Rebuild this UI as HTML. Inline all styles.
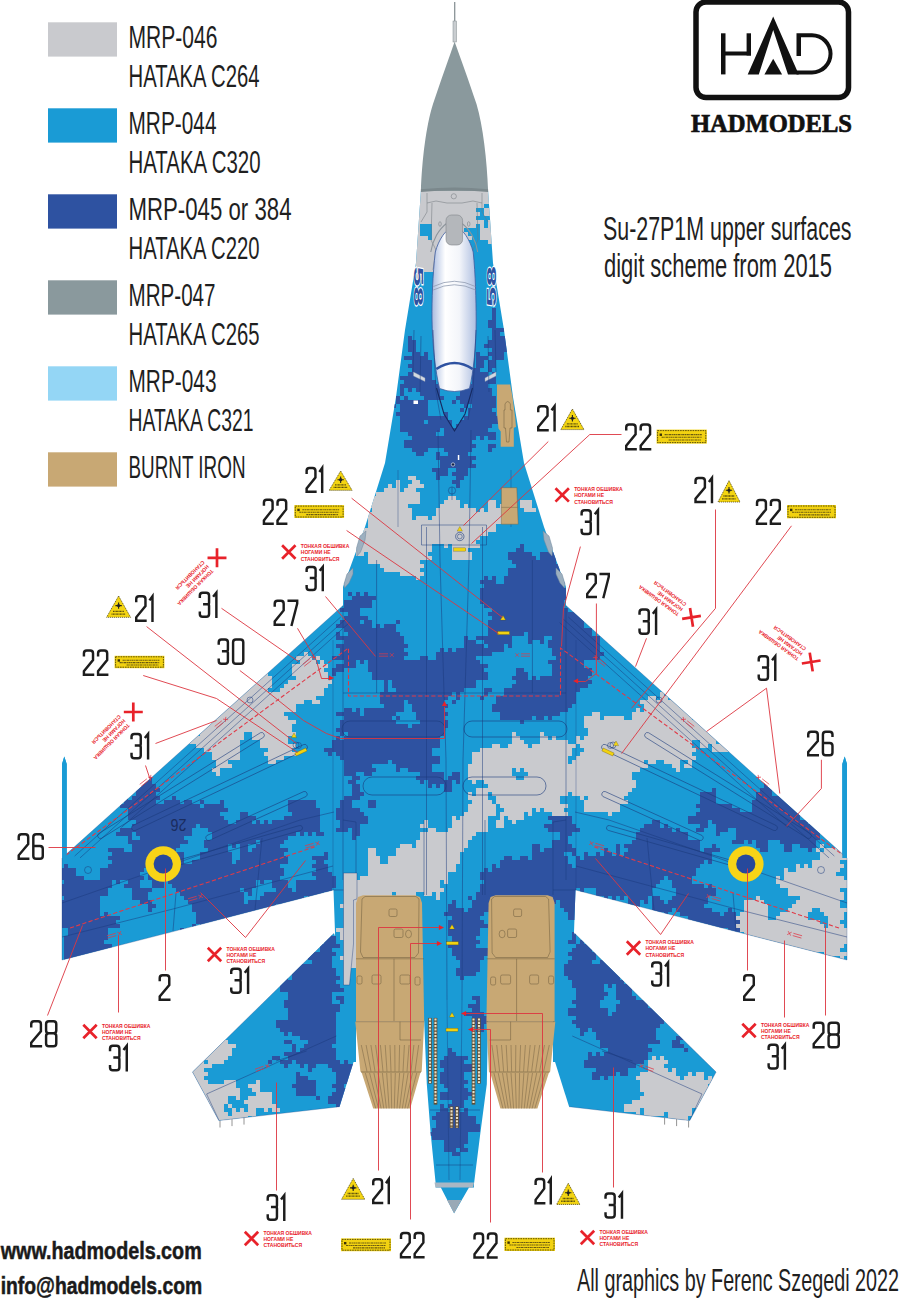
<!DOCTYPE html><html><head><meta charset="utf-8"><title>Su-27P1M</title>
<style>html,body{margin:0;padding:0;background:#fff}svg{display:block}</style></head><body>
<svg width="901" height="1300" viewBox="0 0 901 1300">
<rect width="901" height="1300" fill="#fff"/>
<defs><clipPath id="ac">
<path d="M420.9,191.0 L416.0,263.0 L405.0,330.0 L396.0,397.0 L385.0,463.0 L365.0,527.0 L343.0,587.0 L343.0,605.5 L333.5,890.0 L335.0,932.0 L336.0,1040.0 L348.0,1062.0 L356.0,1062.0 L356.0,1021.0 L424.0,1021.0 L485.0,1021.0 L553.0,1021.0 L553.0,1062.0 L561.0,1062.0 L573.0,1040.0 L574.0,932.0 L575.5,890.0 L566.0,605.5 L566.0,587.0 L544.0,527.0 L524.0,463.0 L513.0,397.0 L504.0,330.0 L493.0,263.0 L488.1,191.0Z"/>
<path d="M343.0,605.5 L62.0,858.0 L62.0,960.0 L173.0,931.6 L333.5,890.0 L343.0,880.0Z"/>
<path d="M566.0,605.5 L847.0,858.0 L847.0,960.0 L736.0,931.6 L575.5,890.0 L566.0,880.0Z"/>
<path d="M334.0,933.3 L192.5,1072.0 L218.8,1120.6 L339.5,1106.7 L354.8,1058.0 L356.0,1000.0Z"/>
<path d="M574.6,933.3 L716.1,1072.0 L689.8,1120.6 L569.1,1106.7 L553.8,1058.0 L552.6,1000.0Z"/>
<path d="M424.2,1015.0 L424.2,1021.7 L426.8,1084.0 L430.6,1132.8 L435.7,1183.8 L435.7,1187.6 L440.8,1187.6 L454.1,1213.2 L469.0,1187.6 L474.0,1187.6 L474.0,1183.8 L480.4,1132.8 L486.8,1084.3 L488.0,1021.7 L488.0,1015.0Z"/>
</clipPath></defs>
<g fill="#1a9bd5">
<path d="M420.9,191.0 L416.0,263.0 L405.0,330.0 L396.0,397.0 L385.0,463.0 L365.0,527.0 L343.0,587.0 L343.0,605.5 L333.5,890.0 L335.0,932.0 L336.0,1040.0 L348.0,1062.0 L356.0,1062.0 L356.0,1021.0 L424.0,1021.0 L485.0,1021.0 L553.0,1021.0 L553.0,1062.0 L561.0,1062.0 L573.0,1040.0 L574.0,932.0 L575.5,890.0 L566.0,605.5 L566.0,587.0 L544.0,527.0 L524.0,463.0 L513.0,397.0 L504.0,330.0 L493.0,263.0 L488.1,191.0Z"/>
<path d="M343.0,605.5 L62.0,858.0 L62.0,960.0 L173.0,931.6 L333.5,890.0 L343.0,880.0Z"/>
<path d="M566.0,605.5 L847.0,858.0 L847.0,960.0 L736.0,931.6 L575.5,890.0 L566.0,880.0Z"/>
<path d="M334.0,933.3 L192.5,1072.0 L218.8,1120.6 L339.5,1106.7 L354.8,1058.0 L356.0,1000.0Z"/>
<path d="M574.6,933.3 L716.1,1072.0 L689.8,1120.6 L569.1,1106.7 L553.8,1058.0 L552.6,1000.0Z"/>
<path d="M424.2,1015.0 L424.2,1021.7 L426.8,1084.0 L430.6,1132.8 L435.7,1183.8 L435.7,1187.6 L440.8,1187.6 L454.1,1213.2 L469.0,1187.6 L474.0,1187.6 L474.0,1183.8 L480.4,1132.8 L486.8,1084.3 L488.0,1021.7 L488.0,1015.0Z"/>
<path d="M62.0,858.0 L62.0,764.0 L64.3,756.5 L66.7,764.0 L66.7,858.0Z"/>
<path d="M847.0,858.0 L847.0,764.0 L844.7,756.5 L842.3,764.0 L842.3,858.0Z"/>
</g>
<g clip-path="url(#ac)">
<path fill="#2e52a1" d="M492,308h4v12h-4zM488,320h8v8h-8zM492,328h12v4h-12zM492,332h8v4h-8zM408,336h4v4h-4zM492,336h16v4h-16zM488,340h20v4h-20zM484,344h28v4h-28zM408,340h8v12h-8zM492,348h24v4h-24zM488,352h16v4h-16zM412,352h8v4h-8zM424,352h4v4h-4zM476,352h4v4h-4zM476,356h12v4h-12zM492,356h12v4h-12zM404,356h24v4h-24zM412,360h20v4h-20zM476,360h8v8h-8zM488,360h8v8h-8zM408,364h24v4h-24zM488,368h4v4h-4zM472,368h8v4h-8zM412,368h20v4h-20zM492,372h4v4h-4zM408,372h24v4h-24zM472,372h16v4h-16zM400,376h32v4h-32zM472,376h24v8h-24zM404,380h32v4h-32zM400,384h40v4h-40zM464,384h24v4h-24zM408,388h4v4h-4zM416,388h24v4h-24zM460,388h32v8h-32zM400,388h4v8h-4zM420,392h20v4h-20zM396,396h4v4h-4zM456,396h40v4h-40zM424,396h20v4h-20zM404,396h4v4h-4zM396,400h32v4h-32zM460,400h36v4h-36zM452,400h4v4h-4zM472,404h24v4h-24zM392,404h4v4h-4zM464,404h4v4h-4zM400,404h28v8h-28zM468,408h24v4h-24zM460,408h4v4h-4zM468,412h28v4h-28zM396,412h32v4h-32zM444,412h4v4h-4zM400,416h48v4h-48zM464,416h40v4h-40zM428,420h24v4h-24zM400,420h24v4h-24zM460,420h44v4h-44zM456,424h36v4h-36zM400,424h52v4h-52zM400,428h40v4h-40zM444,428h44v4h-44zM408,432h28v4h-28zM444,432h52v4h-52zM480,436h4v4h-4zM488,436h8v4h-8zM412,436h64v4h-64zM404,440h68v4h-68zM404,444h72v4h-72zM488,444h8v4h-8zM488,448h4v4h-4zM444,448h28v4h-28zM412,448h16v4h-16zM416,452h8v4h-8zM436,452h4v4h-4zM448,452h20v4h-20zM436,456h40v4h-40zM440,460h32v4h-32zM440,464h36v4h-36zM456,468h12v4h-12zM432,468h16v4h-16zM452,472h16v4h-16zM436,472h12v4h-12zM456,476h8v4h-8zM436,476h4v4h-4zM452,480h8v4h-8zM456,484h4v4h-4zM520,544h4v4h-4zM516,548h8v4h-8zM508,552h24v4h-24zM540,552h20v4h-20zM540,556h16v4h-16zM508,556h28v4h-28zM512,560h44v4h-44zM516,564h44v4h-44zM508,568h52v8h-52zM504,576h56v4h-56zM484,576h4v4h-4zM492,576h4v4h-4zM480,580h16v4h-16zM504,580h64v4h-64zM484,584h80v4h-80zM348,592h4v4h-4zM364,592h4v4h-4zM356,592h4v4h-4zM480,588h88v12h-88zM352,596h24v4h-24zM480,600h84v4h-84zM344,600h28v8h-28zM484,604h80v4h-80zM340,608h20v4h-20zM492,608h76v4h-76zM488,612h92v4h-92zM348,612h12v4h-12zM492,616h96v4h-96zM344,616h24v4h-24zM340,620h20v4h-20zM396,620h4v4h-4zM364,620h8v4h-8zM488,620h96v8h-96zM384,624h12v4h-12zM336,624h36v4h-36zM376,624h4v4h-4zM344,628h52v4h-52zM488,628h104v4h-104zM488,632h36v4h-36zM348,632h52v4h-52zM528,632h64v4h-64zM336,632h4v4h-4zM552,636h48v4h-48zM476,636h36v4h-36zM464,636h4v4h-4zM528,636h16v4h-16zM336,636h68v4h-68zM528,640h4v4h-4zM344,640h60v4h-60zM540,640h4v4h-4zM464,640h12v4h-12zM484,640h28v4h-28zM548,640h52v8h-52zM488,644h16v4h-16zM508,644h4v4h-4zM336,644h72v4h-72zM464,644h20v4h-20zM340,648h64v4h-64zM440,648h4v4h-4zM448,648h4v4h-4zM456,648h48v4h-48zM552,648h48v4h-48zM340,652h68v4h-68zM552,652h52v4h-52zM436,652h56v4h-56zM436,656h40v4h-40zM332,656h72v4h-72zM420,656h8v4h-8zM556,656h44v4h-44zM360,660h4v4h-4zM344,660h12v4h-12zM368,660h112v4h-112zM548,660h36v4h-36zM368,664h120v4h-120zM336,664h20v4h-20zM552,664h32v4h-32zM516,668h8v4h-8zM368,668h116v4h-116zM332,668h12v4h-12zM552,668h40v8h-40zM332,672h4v4h-4zM516,672h12v4h-12zM372,672h116v8h-116zM540,676h48v4h-48zM512,676h16v4h-16zM532,676h4v4h-4zM516,680h76v4h-76zM392,680h84v8h-84zM512,684h76v4h-76zM384,680h4v12h-4zM484,688h8v4h-8zM504,688h76v4h-76zM396,688h68v4h-68zM484,692h4v4h-4zM504,692h72v4h-72zM380,692h72v4h-72zM456,692h4v8h-4zM480,696h4v4h-4zM380,696h68v4h-68zM496,696h80v8h-80zM408,700h36v4h-36zM380,700h24v4h-24zM452,700h4v4h-4zM384,704h20v4h-20zM492,704h80v4h-80zM412,704h36v4h-36zM364,708h40v4h-40zM412,708h32v4h-32zM344,708h8v4h-8zM492,708h76v4h-76zM356,708h4v4h-4zM416,712h32v4h-32zM500,712h60v4h-60zM336,712h24v4h-24zM364,712h32v4h-32zM548,716h4v4h-4zM396,716h4v4h-4zM536,716h8v4h-8zM416,716h28v4h-28zM500,716h32v4h-32zM344,716h48v4h-48zM520,720h4v4h-4zM420,720h28v4h-28zM340,720h56v4h-56zM340,724h68v4h-68zM412,724h36v4h-36zM336,728h108v4h-108zM340,732h4v4h-4zM348,732h96v4h-96zM344,736h96v4h-96zM336,736h4v4h-4zM332,740h108v8h-108zM324,748h108v4h-108zM336,752h96v4h-96zM328,752h4v4h-4zM340,756h100v4h-100zM392,760h48v4h-48zM344,760h44v4h-44zM344,764h28v4h-28zM396,764h36v4h-36zM396,768h4v4h-4zM344,768h32v4h-32zM408,768h24v4h-24zM452,772h8v4h-8zM344,772h12v4h-12zM420,772h24v4h-24zM364,772h8v4h-8zM352,776h8v4h-8zM448,776h12v4h-12zM416,776h28v4h-28zM140,776h12v8h-12zM428,780h24v4h-24zM420,780h4v4h-4zM348,780h8v4h-8zM456,780h4v4h-4zM764,780h8v8h-8zM140,784h16v4h-16zM428,784h4v4h-4zM436,784h4v4h-4zM444,784h8v8h-8zM352,784h8v8h-8zM760,788h12v4h-12zM780,788h4v4h-4zM712,788h4v4h-4zM136,788h24v4h-24zM780,792h8v4h-8zM136,792h20v4h-20zM756,792h16v4h-16zM124,792h4v4h-4zM352,792h12v4h-12zM120,796h8v4h-8zM756,796h40v4h-40zM344,796h16v4h-16zM132,796h28v4h-28zM172,796h4v4h-4zM700,792h16v12h-16zM220,800h4v4h-4zM124,800h32v4h-32zM200,800h4v4h-4zM164,800h16v4h-16zM184,800h8v4h-8zM288,800h28v8h-28zM340,800h12v8h-12zM368,800h8v8h-8zM204,804h20v4h-20zM696,804h36v4h-36zM120,804h80v4h-80zM752,800h48v12h-48zM336,808h24v4h-24zM700,808h40v4h-40zM288,808h32v4h-32zM128,808h100v4h-100zM336,812h28v4h-28zM696,812h108v4h-108zM240,812h8v4h-8zM292,812h28v4h-28zM128,812h92v4h-92zM128,816h96v4h-96zM688,816h112v4h-112zM336,816h32v4h-32zM284,816h36v4h-36zM548,816h24v4h-24zM240,816h16v4h-16zM256,820h4v4h-4zM688,820h20v4h-20zM236,820h16v4h-16zM264,820h4v4h-4zM272,820h48v4h-48zM712,820h96v4h-96zM136,820h92v4h-92zM552,820h20v4h-20zM652,820h8v4h-8zM340,820h28v4h-28zM644,824h16v4h-16zM700,824h8v4h-8zM716,824h104v4h-104zM200,824h120v4h-120zM664,824h4v4h-4zM340,824h20v4h-20zM544,824h32v4h-32zM132,824h64v4h-64zM548,828h32v4h-32zM640,828h32v4h-32zM336,828h12v4h-12zM208,828h112v4h-112zM120,828h72v4h-72zM716,828h12v4h-12zM676,828h4v4h-4zM696,828h8v4h-8zM352,828h8v8h-8zM116,832h16v4h-16zM716,832h4v4h-4zM316,832h8v4h-8zM308,832h4v4h-4zM300,832h4v4h-4zM136,832h56v4h-56zM212,832h84v4h-84zM560,832h12v4h-12zM736,828h84v12h-84zM636,832h52v8h-52zM212,836h76v4h-76zM140,836h44v4h-44zM128,836h4v4h-4zM560,836h8v4h-8zM352,836h4v4h-4zM780,840h36v4h-36zM552,840h16v4h-16zM748,840h4v4h-4zM260,840h24v4h-24zM732,840h12v4h-12zM632,840h68v4h-68zM204,840h52v4h-52zM128,840h60v4h-60zM756,840h12v8h-12zM624,844h76v4h-76zM204,844h24v4h-24zM232,844h4v4h-4zM132,844h48v4h-48zM256,844h24v4h-24zM712,844h4v4h-4zM552,844h20v4h-20zM800,844h16v4h-16zM240,844h8v8h-8zM532,844h8v8h-8zM784,844h8v8h-8zM108,848h16v4h-16zM604,848h4v4h-4zM628,848h72v4h-72zM760,848h8v4h-8zM704,848h16v4h-16zM132,848h44v4h-44zM808,848h4v4h-4zM252,848h36v4h-36zM208,848h20v4h-20zM544,848h32v4h-32zM616,844h4v12h-4zM324,852h4v4h-4zM112,852h72v4h-72zM584,852h4v4h-4zM532,852h32v4h-32zM624,852h88v4h-88zM240,852h44v4h-44zM596,852h4v4h-4zM604,852h8v4h-8zM572,852h4v4h-4zM200,852h32v8h-32zM520,856h8v4h-8zM240,856h48v4h-48zM576,856h4v4h-4zM108,856h76v4h-76zM532,856h36v4h-36zM504,856h8v4h-8zM312,856h16v4h-16zM584,856h128v4h-128zM500,860h68v4h-68zM112,860h72v4h-72zM316,860h8v4h-8zM192,860h40v4h-40zM576,860h128v4h-128zM236,860h52v4h-52zM708,860h4v4h-4zM500,864h72v4h-72zM492,864h4v4h-4zM108,864h172v4h-172zM312,864h16v4h-16zM56,864h4v4h-4zM64,864h4v4h-4zM576,864h124v4h-124zM316,868h12v4h-12zM492,868h204v4h-204zM484,868h4v4h-4zM100,868h44v4h-44zM148,868h136v8h-136zM56,868h20v8h-20zM480,872h216v4h-216zM100,872h40v4h-40zM312,872h20v4h-20zM316,876h20v4h-20zM148,876h132v4h-132zM668,876h24v4h-24zM480,876h184v4h-184zM100,876h44v4h-44zM56,876h28v4h-28zM260,880h4v4h-4zM168,880h88v4h-88zM64,880h48v4h-48zM672,880h20v4h-20zM128,880h12v4h-12zM484,880h176v4h-176zM116,880h4v4h-4zM296,880h40v8h-40zM152,880h12v8h-12zM272,880h16v8h-16zM672,884h32v4h-32zM480,884h176v4h-176zM124,884h16v4h-16zM708,884h4v4h-4zM172,884h84v4h-84zM56,884h56v4h-56zM580,888h4v4h-4zM480,888h96v4h-96zM132,888h20v4h-20zM244,888h8v4h-8zM176,888h64v4h-64zM296,888h36v4h-36zM276,888h16v4h-16zM60,888h48v8h-48zM596,888h56v8h-56zM676,888h40v8h-40zM264,892h60v4h-60zM180,892h64v4h-64zM328,892h4v4h-4zM248,892h4v4h-4zM132,892h16v8h-16zM476,892h100v8h-100zM260,896h44v4h-44zM308,896h8v4h-8zM604,896h4v4h-4zM628,896h20v4h-20zM612,896h4v4h-4zM184,896h60v4h-60zM672,896h36v4h-36zM64,896h36v4h-36zM468,896h4v4h-4zM652,896h8v4h-8zM56,896h4v4h-4zM620,896h4v4h-4zM472,900h84v4h-84zM668,900h40v4h-40zM308,900h4v4h-4zM188,900h56v4h-56zM140,900h12v4h-12zM652,900h12v4h-12zM452,900h4v4h-4zM248,900h56v4h-56zM644,900h4v4h-4zM560,900h16v8h-16zM628,900h12v8h-12zM280,904h4v4h-4zM148,904h8v4h-8zM448,904h8v4h-8zM496,904h8v4h-8zM472,904h20v4h-20zM652,904h52v4h-52zM288,904h12v4h-12zM540,904h12v4h-12zM532,904h4v4h-4zM56,900h44v12h-44zM192,904h84v8h-84zM512,904h12v8h-12zM500,908h4v4h-4zM468,908h24v4h-24zM676,908h36v4h-36zM148,908h4v4h-4zM728,908h4v4h-4zM448,908h16v4h-16zM564,908h12v4h-12zM652,908h20v4h-20zM652,912h4v4h-4zM260,912h16v4h-16zM104,912h4v4h-4zM196,912h60v4h-60zM680,912h40v4h-40zM664,912h4v4h-4zM724,912h12v4h-12zM60,912h40v4h-40zM444,912h40v4h-40zM568,912h8v8h-8zM56,916h64v4h-64zM268,916h4v4h-4zM688,916h48v4h-48zM196,916h56v4h-56zM452,916h28v4h-28zM232,920h4v4h-4zM196,920h32v4h-32zM60,920h56v4h-56zM688,920h52v4h-52zM448,920h36v4h-36zM220,924h8v4h-8zM56,924h64v4h-64zM708,924h28v4h-28zM192,924h4v4h-4zM200,924h4v4h-4zM448,924h40v4h-40zM688,924h16v4h-16zM212,924h4v4h-4zM324,928h4v4h-4zM180,928h4v4h-4zM708,928h12v4h-12zM224,928h4v4h-4zM728,928h12v4h-12zM448,928h32v8h-32zM196,928h8v8h-8zM68,928h40v8h-40zM172,932h12v4h-12zM716,932h4v4h-4zM728,932h4v4h-4zM324,932h8v4h-8zM708,932h4v4h-4zM572,932h4v8h-4zM452,936h24v4h-24zM168,936h8v4h-8zM64,936h44v4h-44zM324,936h12v8h-12zM580,940h4v4h-4zM64,940h40v4h-40zM568,940h8v4h-8zM452,940h28v4h-28zM576,944h16v4h-16zM320,944h20v4h-20zM448,944h28v4h-28zM64,944h48v4h-48zM64,948h44v4h-44zM572,948h20v4h-20zM320,948h12v4h-12zM452,948h36v8h-36zM308,952h28v4h-28zM64,952h56v4h-56zM568,952h28v4h-28zM308,956h24v4h-24zM456,956h28v4h-28zM572,956h24v4h-24zM64,956h48v4h-48zM568,960h24v4h-24zM600,960h20v4h-20zM104,960h4v4h-4zM84,960h4v4h-4zM312,960h20v4h-20zM64,960h8v8h-8zM460,960h20v8h-20zM292,964h40v4h-40zM564,964h56v8h-56zM456,968h24v4h-24zM292,968h44v8h-44zM564,972h60v4h-60zM456,972h20v4h-20zM568,976h52v4h-52zM280,976h8v4h-8zM460,976h4v4h-4zM292,976h48v4h-48zM572,980h52v4h-52zM280,980h56v4h-56zM572,984h32v4h-32zM280,984h60v4h-60zM608,984h4v4h-4zM576,988h28v4h-28zM280,988h64v4h-64zM616,984h16v12h-16zM576,992h32v4h-32zM288,992h44v8h-44zM472,996h8v4h-8zM576,996h28v4h-28zM616,996h20v4h-20zM336,996h8v4h-8zM572,1000h28v4h-28zM476,1000h4v4h-4zM284,1000h48v4h-48zM340,1000h4v4h-4zM620,1000h28v4h-28zM468,1004h12v4h-12zM576,1004h24v4h-24zM284,1004h56v4h-56zM652,1004h8v4h-8zM616,1004h32v4h-32zM288,1008h52v4h-52zM472,1008h8v4h-8zM616,1008h44v4h-44zM568,1008h40v8h-40zM464,1012h20v4h-20zM612,1012h48v4h-48zM288,1012h48v8h-48zM576,1016h88v4h-88zM472,1016h16v4h-16zM472,1020h20v4h-20zM572,1020h92v4h-92zM276,1020h60v8h-60zM576,1024h84v4h-84zM476,1024h8v8h-8zM580,1028h8v4h-8zM592,1028h64v4h-64zM280,1028h56v4h-56zM580,1032h4v4h-4zM292,1032h44v4h-44zM684,1032h4v4h-4zM284,1032h4v4h-4zM596,1032h60v8h-60zM300,1036h36v4h-36zM676,1036h12v4h-12zM284,1040h8v4h-8zM308,1040h28v4h-28zM600,1040h60v4h-60zM672,1040h8v4h-8zM672,1044h12v4h-12zM304,1044h28v4h-28zM600,1044h48v4h-48zM292,1044h4v8h-4zM300,1048h36v4h-36zM448,1048h4v4h-4zM684,1048h4v4h-4zM608,1048h44v4h-44zM284,1052h52v4h-52zM604,1052h44v4h-44zM448,1052h8v4h-8zM588,1052h4v4h-4zM596,1052h4v4h-4zM288,1056h48v4h-48zM272,1056h8v4h-8zM444,1056h24v4h-24zM588,1056h60v4h-60zM296,1060h44v4h-44zM584,1060h60v4h-60zM268,1060h4v4h-4zM280,1060h12v4h-12zM344,1060h4v4h-4zM440,1060h24v4h-24zM308,1064h8v4h-8zM440,1064h32v4h-32zM328,1064h28v4h-28zM300,1064h4v4h-4zM584,1064h52v4h-52zM284,1064h4v4h-4zM596,1068h32v4h-32zM332,1068h24v4h-24zM444,1068h28v4h-28zM308,1068h4v4h-4zM296,1072h4v4h-4zM336,1072h16v4h-16zM620,1072h8v4h-8zM592,1072h24v4h-24zM440,1072h24v8h-24zM604,1076h4v4h-4zM296,1076h12v4h-12zM336,1076h20v4h-20zM592,1076h8v4h-8zM440,1080h28v4h-28zM296,1080h20v4h-20zM336,1080h12v4h-12zM444,1084h20v4h-20zM292,1084h24v4h-24zM332,1084h12v4h-12zM336,1088h12v4h-12zM448,1088h20v4h-20zM296,1088h20v8h-20zM440,1092h32v4h-32zM332,1092h12v4h-12zM440,1096h28v4h-28zM316,1096h4v4h-4zM328,1096h20v8h-20zM452,1100h12v4h-12zM336,1104h12v4h-12zM448,1104h16v4h-16zM440,1104h4v4h-4zM336,1108h8v4h-8zM440,1108h8v4h-8zM464,1108h4v4h-4zM452,1108h8v4h-8zM436,1112h32v4h-32zM432,1116h44v4h-44zM436,1120h40v4h-40zM436,1124h44v4h-44zM432,1128h48v4h-48zM428,1132h40v4h-40zM432,1136h36v4h-36zM444,1140h24v4h-24zM444,1144h20v4h-20zM460,1148h8v4h-8zM444,1148h12v4h-12zM452,1152h8v4h-8z"/>
<path fill="#c9cace" d="M460,176h4v4h-4zM476,176h4v4h-4zM424,180h12v4h-12zM452,180h28v4h-28zM412,184h24v4h-24zM448,184h40v4h-40zM500,184h4v8h-4zM412,188h84v4h-84zM408,192h96v4h-96zM412,196h84v4h-84zM404,200h96v4h-96zM492,204h8v4h-8zM404,204h80v4h-80zM484,208h8v4h-8zM408,208h68v4h-68zM404,212h76v4h-76zM484,212h12v4h-12zM500,212h8v4h-8zM408,216h68v4h-68zM492,216h12v4h-12zM404,220h80v4h-80zM488,220h12v8h-12zM400,224h20v4h-20zM480,224h4v4h-4zM432,224h44v4h-44zM432,228h32v4h-32zM480,228h20v4h-20zM408,228h12v8h-12zM480,232h16v4h-16zM500,232h8v4h-8zM432,232h36v4h-36zM408,236h20v4h-20zM480,236h24v4h-24zM432,236h40v4h-40zM488,240h4v4h-4zM408,240h52v4h-52zM404,244h64v4h-64zM408,248h44v4h-44zM460,248h4v4h-4zM404,252h48v4h-48zM400,256h56v4h-56zM404,260h48v4h-48zM408,264h44v4h-44zM404,268h40v4h-40zM412,272h12v4h-12zM416,276h8v4h-8zM408,476h8v4h-8zM412,480h8v4h-8zM396,480h4v8h-4zM408,484h16v4h-16zM388,484h4v4h-4zM404,488h12v4h-12zM384,488h16v4h-16zM376,492h44v4h-44zM448,496h8v4h-8zM368,496h52v4h-52zM444,500h16v4h-16zM372,500h48v4h-48zM520,500h12v8h-12zM488,500h8v8h-8zM500,504h4v4h-4zM368,504h40v4h-40zM464,504h4v4h-4zM440,504h20v4h-20zM436,508h40v4h-40zM488,508h16v4h-16zM372,508h40v4h-40zM480,508h4v4h-4zM524,508h12v4h-12zM436,512h72v4h-72zM368,512h44v8h-44zM432,516h76v4h-76zM416,516h12v4h-12zM368,520h136v4h-136zM368,524h128v4h-128zM356,528h140v4h-140zM360,532h128v4h-128zM360,536h120v4h-120zM364,540h112v4h-112zM444,544h4v4h-4zM356,544h76v4h-76zM452,544h28v4h-28zM452,548h16v4h-16zM352,548h80v4h-80zM368,552h60v4h-60zM356,552h8v4h-8zM452,552h20v8h-20zM368,556h64v4h-64zM368,560h52v4h-52zM380,564h44v4h-44zM384,568h36v4h-36zM400,572h24v4h-24zM416,576h4v4h-4zM304,652h4v4h-4zM316,656h4v4h-4zM296,656h16v4h-16zM320,660h4v4h-4zM300,660h16v4h-16zM292,664h36v4h-36zM292,668h32v4h-32zM256,668h4v4h-4zM256,672h12v4h-12zM292,672h36v4h-36zM244,676h28v4h-28zM296,676h32v4h-32zM288,680h44v4h-44zM240,680h32v8h-32zM284,684h44v4h-44zM280,688h44v4h-44zM236,688h32v4h-32zM236,692h88v4h-88zM228,692h4v4h-4zM660,692h4v4h-4zM672,696h8v4h-8zM660,696h8v4h-8zM648,696h8v4h-8zM228,696h88v4h-88zM640,700h44v4h-44zM312,700h8v4h-8zM224,700h80v4h-80zM644,704h36v4h-36zM216,704h80v4h-80zM208,708h88v4h-88zM644,708h40v4h-40zM636,708h4v4h-4zM208,712h76v4h-76zM592,712h8v4h-8zM632,712h60v8h-60zM604,716h20v4h-20zM696,716h4v4h-4zM204,716h84v4h-84zM584,716h16v4h-16zM208,720h88v4h-88zM584,720h120v4h-120zM584,724h128v4h-128zM200,724h92v8h-92zM588,728h132v8h-132zM252,732h44v4h-44zM184,732h12v4h-12zM540,732h4v4h-4zM512,732h4v4h-4zM200,732h44v4h-44zM512,736h8v4h-8zM552,736h4v4h-4zM576,736h4v4h-4zM584,736h136v4h-136zM176,736h4v4h-4zM184,736h60v4h-60zM252,736h36v4h-36zM540,736h8v4h-8zM176,740h8v4h-8zM260,740h28v4h-28zM540,740h28v4h-28zM700,740h16v4h-16zM512,740h12v4h-12zM576,740h116v4h-116zM188,740h52v4h-52zM700,744h8v4h-8zM176,744h4v4h-4zM508,744h20v4h-20zM712,744h20v4h-20zM492,744h8v4h-8zM532,744h44v4h-44zM196,744h44v4h-44zM260,744h36v4h-36zM580,744h112v4h-112zM204,748h36v4h-36zM712,748h16v4h-16zM480,748h92v4h-92zM268,748h24v4h-24zM584,748h112v4h-112zM580,752h112v4h-112zM264,752h32v4h-32zM472,752h100v4h-100zM212,752h28v8h-28zM268,756h16v4h-16zM576,756h120v4h-120zM472,756h96v8h-96zM648,760h8v4h-8zM216,760h12v4h-12zM572,760h72v4h-72zM664,760h16v4h-16zM688,760h4v4h-4zM268,760h8v4h-8zM216,764h16v4h-16zM672,764h8v4h-8zM684,764h8v4h-8zM468,764h180v4h-180zM516,768h4v4h-4zM212,768h8v4h-8zM676,768h4v4h-4zM524,768h116v4h-116zM468,768h44v8h-44zM528,772h104v4h-104zM216,772h4v4h-4zM524,776h108v4h-108zM468,776h48v4h-48zM472,780h4v4h-4zM484,780h152v4h-152zM488,784h148v4h-148zM476,788h156v4h-156zM492,792h76v4h-76zM476,792h12v4h-12zM572,792h56v4h-56zM468,792h4v4h-4zM580,796h4v4h-4zM588,796h36v4h-36zM468,796h20v4h-20zM496,796h64v8h-64zM472,800h20v4h-20zM584,800h44v4h-44zM500,804h68v4h-68zM468,804h28v8h-28zM584,804h36v8h-36zM536,808h4v4h-4zM504,808h28v4h-28zM544,808h20v4h-20zM528,812h4v4h-4zM552,812h16v4h-16zM500,812h24v4h-24zM464,812h32v4h-32zM608,812h4v4h-4zM508,816h16v4h-16zM500,816h4v4h-4zM452,816h4v4h-4zM460,816h28v4h-28zM512,820h4v4h-4zM424,820h4v4h-4zM452,820h36v8h-36zM496,820h8v8h-8zM420,824h8v4h-8zM428,828h8v4h-8zM448,828h40v4h-40zM420,832h56v4h-56zM420,836h52v4h-52zM416,840h52v8h-52zM400,844h12v4h-12zM820,844h4v4h-4zM824,848h24v4h-24zM816,848h4v4h-4zM396,848h68v4h-68zM368,848h8v8h-8zM820,852h28v4h-28zM396,852h64v4h-64zM820,856h32v4h-32zM368,856h12v8h-12zM388,856h72v8h-72zM812,860h28v4h-28zM812,864h32v4h-32zM796,864h4v4h-4zM804,864h4v4h-4zM368,864h88v8h-88zM784,868h4v4h-4zM796,868h44v4h-44zM784,872h52v4h-52zM368,872h80v4h-80zM776,876h4v4h-4zM784,876h60v4h-60zM348,876h8v4h-8zM360,876h88v4h-88zM776,880h76v4h-76zM348,880h92v4h-92zM444,880h4v4h-4zM344,884h96v4h-96zM780,884h68v4h-68zM788,888h52v4h-52zM348,888h96v4h-96zM424,892h8v4h-8zM396,892h20v4h-20zM788,892h56v4h-56zM344,892h48v4h-48zM436,892h4v8h-4zM396,896h4v4h-4zM756,896h4v4h-4zM344,896h40v4h-40zM800,896h44v4h-44zM404,896h4v4h-4zM744,900h20v4h-20zM796,900h44v4h-44zM344,900h20v4h-20zM340,904h20v4h-20zM792,904h48v4h-48zM744,904h24v8h-24zM348,908h16v4h-16zM788,908h24v4h-24zM820,908h28v4h-28zM740,912h28v4h-28zM824,912h20v4h-20zM780,912h28v4h-28zM344,912h24v4h-24zM776,916h32v4h-32zM828,916h16v4h-16zM736,916h32v4h-32zM348,916h12v4h-12zM740,920h80v4h-80zM352,920h8v4h-8zM828,920h12v4h-12zM736,924h88v4h-88zM828,924h16v4h-16zM348,924h12v4h-12zM740,928h108v4h-108zM336,928h20v4h-20zM744,932h108v4h-108zM340,932h16v4h-16zM340,936h20v4h-20zM752,936h96v4h-96zM760,940h88v4h-88zM344,940h16v8h-16zM780,944h64v4h-64zM764,944h8v4h-8zM792,948h48v4h-48zM784,948h4v4h-4zM344,948h12v4h-12zM800,952h4v4h-4zM348,952h12v4h-12zM792,952h4v4h-4zM808,952h4v4h-4zM824,952h24v4h-24zM824,956h8v4h-8zM840,956h4v4h-4zM340,956h16v4h-16zM344,960h16v4h-16zM348,964h8v4h-8zM220,1040h8v4h-8zM212,1040h4v4h-4zM212,1044h24v4h-24zM204,1048h28v8h-28zM652,1056h4v4h-4zM660,1056h4v4h-4zM204,1056h24v4h-24zM196,1056h4v4h-4zM648,1060h20v4h-20zM208,1060h16v4h-16zM196,1060h8v4h-8zM648,1064h16v4h-16zM196,1064h16v4h-16zM188,1068h16v4h-16zM648,1068h20v4h-20zM672,1068h4v4h-4zM696,1072h8v4h-8zM192,1072h16v4h-16zM640,1072h36v4h-36zM688,1072h4v4h-4zM684,1076h20v4h-20zM708,1076h4v4h-4zM192,1076h12v4h-12zM636,1076h44v4h-44zM196,1080h12v4h-12zM640,1080h72v4h-72zM256,1080h4v4h-4zM224,1080h12v4h-12zM640,1084h68v4h-68zM248,1084h12v4h-12zM196,1084h40v4h-40zM192,1088h48v4h-48zM640,1088h80v4h-80zM252,1088h8v4h-8zM204,1092h36v4h-36zM256,1092h16v4h-16zM644,1092h72v4h-72zM236,1096h4v4h-4zM640,1096h72v4h-72zM204,1096h24v4h-24zM248,1096h24v4h-24zM208,1100h20v4h-20zM244,1100h28v4h-28zM632,1100h80v4h-80zM228,1104h4v4h-4zM624,1104h80v4h-80zM248,1104h28v4h-28zM208,1104h16v4h-16zM212,1108h12v4h-12zM232,1108h4v4h-4zM696,1108h4v4h-4zM644,1108h48v4h-48zM248,1108h8v4h-8zM264,1108h4v4h-4zM272,1108h8v4h-8zM240,1108h4v4h-4zM624,1108h16v4h-16zM636,1112h4v4h-4zM668,1112h24v4h-24zM232,1112h24v4h-24zM644,1112h20v4h-20zM212,1112h16v4h-16zM648,1116h4v4h-4zM252,1116h4v4h-4zM216,1116h32v4h-32zM668,1116h20v4h-20zM676,1120h4v4h-4zM236,1120h4v4h-4z"/>
</g>
<g clip-path="url(#ac)">
<path d="M340.7,617.0 L74.7,856.0" fill="none" stroke="#1b3a7c" stroke-width="0.55" stroke-opacity="0.9"/>
<path d="M568.3,617.0 L834.3,856.0" fill="none" stroke="#1b3a7c" stroke-width="0.55" stroke-opacity="0.9"/>
<path d="M346.0,618.9 L80.0,857.9" fill="none" stroke="#1b3a7c" stroke-width="0.55" stroke-opacity="0.9"/>
<path d="M563.0,618.9 L829.0,857.9" fill="none" stroke="#1b3a7c" stroke-width="0.55" stroke-opacity="0.9"/>
<path d="M349.4,622.6 L121.4,827.5" fill="none" stroke="#1b3a7c" stroke-width="0.55" stroke-opacity="0.9"/>
<path d="M559.6,622.6 L787.6,827.5" fill="none" stroke="#1b3a7c" stroke-width="0.55" stroke-opacity="0.9"/>
<path d="M62.0,903.0 L300.0,820.0 L334.0,812.0" fill="none" stroke="#1b3a7c" stroke-width="0.55" stroke-opacity="0.9"/>
<path d="M847.0,903.0 L609.0,820.0 L575.0,812.0" fill="none" stroke="#1b3a7c" stroke-width="0.55" stroke-opacity="0.9"/>
<path d="M62.0,937.0 L173.0,909.0 L333.0,866.0" fill="none" stroke="#1b3a7c" stroke-width="0.55" stroke-opacity="0.9"/>
<path d="M847.0,937.0 L736.0,909.0 L576.0,866.0" fill="none" stroke="#1b3a7c" stroke-width="0.55" stroke-opacity="0.9"/>
<path d="M173.0,931.0 L176.0,893.0" fill="none" stroke="#1b3a7c" stroke-width="0.55" stroke-opacity="0.9"/>
<path d="M736.0,931.0 L733.0,893.0" fill="none" stroke="#1b3a7c" stroke-width="0.55" stroke-opacity="0.9"/>
<path d="M255.0,910.0 L262.0,838.0" fill="none" stroke="#1b3a7c" stroke-width="0.55" stroke-opacity="0.9"/>
<path d="M654.0,910.0 L647.0,838.0" fill="none" stroke="#1b3a7c" stroke-width="0.55" stroke-opacity="0.9"/>
<path d="M101.5,838.3L263.5,737.3A2.8,2.8 0 0 0 260.5,732.7L98.5,833.7A2.8,2.8 0 0 0 101.5,838.3Z" fill="none" stroke="#1b3a7c" stroke-width="0.6" stroke-opacity="1"/>
<path d="M810.5,833.7L648.5,732.7A2.8,2.8 0 0 0 645.5,737.3L807.5,838.3A2.8,2.8 0 0 0 810.5,833.7Z" fill="none" stroke="#1b3a7c" stroke-width="0.6" stroke-opacity="1"/>
<path d="M135.2,830.5L306.2,749.5A2.8,2.8 0 0 0 303.8,744.5L132.8,825.5A2.8,2.8 0 0 0 135.2,830.5Z" fill="none" stroke="#1b3a7c" stroke-width="0.6" stroke-opacity="1"/>
<path d="M776.2,825.5L605.2,744.5A2.8,2.8 0 0 0 602.8,749.5L773.8,830.5A2.8,2.8 0 0 0 776.2,825.5Z" fill="none" stroke="#1b3a7c" stroke-width="0.6" stroke-opacity="1"/>
<path d="M209.1,840.5L306.1,796.5A2.8,2.8 0 0 0 303.9,791.5L206.9,835.5A2.8,2.8 0 0 0 209.1,840.5Z" fill="none" stroke="#1b3a7c" stroke-width="0.6" stroke-opacity="1"/>
<path d="M702.1,835.5L605.1,791.5A2.8,2.8 0 0 0 602.9,796.5L699.9,840.5A2.8,2.8 0 0 0 702.1,835.5Z" fill="none" stroke="#1b3a7c" stroke-width="0.6" stroke-opacity="1"/>
<path d="M160.7,870.4L300.7,830.4A2.5,2.5 0 0 0 299.3,825.6L159.3,865.6A2.5,2.5 0 0 0 160.7,870.4Z" fill="none" stroke="#1b3a7c" stroke-width="0.6" stroke-opacity="1"/>
<path d="M749.7,865.6L609.7,825.6A2.5,2.5 0 0 0 608.3,830.4L748.3,870.4A2.5,2.5 0 0 0 749.7,865.6Z" fill="none" stroke="#1b3a7c" stroke-width="0.6" stroke-opacity="1"/>
<circle cx="88" cy="870" r="3.5" fill="none" stroke="#1b3a7c" stroke-width="0.5"/><circle cx="821.0" cy="870" r="3.5" fill="none" stroke="#1b3a7c" stroke-width="0.5"/>
<circle cx="182" cy="742" r="4.5" fill="none" stroke="#1b3a7c" stroke-width="0.5"/><circle cx="727.0" cy="742" r="4.5" fill="none" stroke="#1b3a7c" stroke-width="0.5"/>
<circle cx="296" cy="745" r="3" fill="none" stroke="#1b3a7c" stroke-width="0.5"/><circle cx="613.0" cy="745" r="3" fill="none" stroke="#1b3a7c" stroke-width="0.5"/>
<circle cx="250" cy="700" r="3" fill="none" stroke="#1b3a7c" stroke-width="0.5"/><circle cx="659.0" cy="700" r="3" fill="none" stroke="#1b3a7c" stroke-width="0.5"/>
<path d="M343.0,605.5 L343.0,880.0" fill="none" stroke="#1b3a7c" stroke-width="0.55" stroke-opacity="0.9"/>
<path d="M566.0,605.5 L566.0,880.0" fill="none" stroke="#1b3a7c" stroke-width="0.55" stroke-opacity="0.9"/>
<path d="M333.0,640.0 L333.0,890.0" fill="none" stroke="#1b3a7c" stroke-width="0.55" stroke-opacity="0.6"/>
<path d="M576.0,640.0 L576.0,890.0" fill="none" stroke="#1b3a7c" stroke-width="0.55" stroke-opacity="0.6"/>
<path d="M426.5,527.0 L426.5,895.0" fill="none" stroke="#1b3a7c" stroke-width="0.55" stroke-opacity="0.9"/>
<path d="M482.5,527.0 L482.5,895.0" fill="none" stroke="#1b3a7c" stroke-width="0.55" stroke-opacity="0.9"/>
<path d="M438.0,430.0 L440.0,560.0 L446.0,760.0 L447.0,1000.0" fill="none" stroke="#1b3a7c" stroke-width="0.55" stroke-opacity="0.9"/>
<path d="M471.0,430.0 L469.0,560.0 L463.0,760.0 L462.0,1000.0" fill="none" stroke="#1b3a7c" stroke-width="0.55" stroke-opacity="0.9"/>
<path d="M376.6,560.0 L376.6,693.0" fill="none" stroke="#1b3a7c" stroke-width="0.55" stroke-opacity="0.9"/>
<path d="M532.4,560.0 L532.4,693.0" fill="none" stroke="#1b3a7c" stroke-width="0.55" stroke-opacity="0.9"/>
<path d="M398.0,470.0 L398.0,527.0" fill="none" stroke="#1b3a7c" stroke-width="0.55" stroke-opacity="0.7"/>
<path d="M511.0,470.0 L511.0,527.0" fill="none" stroke="#1b3a7c" stroke-width="0.55" stroke-opacity="0.7"/>
<path d="M343.0,693.0 L566.0,693.0" fill="none" stroke="#1b3a7c" stroke-width="0.55" stroke-opacity="0.9"/>
<path d="M421.5,525.0 L486.5,525.0 L486.5,545.0 L421.5,545.0Z" fill="none" stroke="#1b3a7c" stroke-width="0.55" stroke-opacity="0.9"/>
<circle cx="459.8" cy="536.5" r="4.2" fill="#c9cace" stroke="#1b3a7c" stroke-width="0.6"/><circle cx="459.8" cy="536.5" r="2.4" fill="none" stroke="#1b3a7c" stroke-width="0.5"/>
<circle cx="452" cy="490.5" r="3.6" fill="none" stroke="#1b3a7c" stroke-width="0.5"/><path d="M452,487V500" stroke="#1b3a7c" stroke-width="0.5"/>
<circle cx="453" cy="464.5" r="1.7" fill="#10204a" stroke="#fff" stroke-width="0.6"/><rect x="457.8" y="455" width="1.5" height="5" fill="#fff"/>
<path d="M350.0,737.0L437.0,737.0A8.0,8.0 0 0 0 437.0,721.0L350.0,721.0A8.0,8.0 0 0 0 350.0,737.0Z" fill="none" stroke="#1b3a7c" stroke-width="0.6" stroke-opacity="1"/>
<path d="M559.0,721.0L472.0,721.0A8.0,8.0 0 0 0 472.0,737.0L559.0,737.0A8.0,8.0 0 0 0 559.0,721.0Z" fill="none" stroke="#1b3a7c" stroke-width="0.6" stroke-opacity="1"/>
<path d="M372.0,795.0L437.0,795.0A9.0,9.0 0 0 0 437.0,777.0L372.0,777.0A9.0,9.0 0 0 0 372.0,795.0Z" fill="none" stroke="#1b3a7c" stroke-width="0.6" stroke-opacity="1"/>
<path d="M537.0,777.0L472.0,777.0A9.0,9.0 0 0 0 472.0,795.0L537.0,795.0A9.0,9.0 0 0 0 537.0,777.0Z" fill="none" stroke="#1b3a7c" stroke-width="0.6" stroke-opacity="1"/>
<path d="M343.0,820.0 L356.0,822.0 L356.0,895.0" fill="none" stroke="#1b3a7c" stroke-width="0.55" stroke-opacity="0.9"/>
<path d="M566.0,820.0 L553.0,822.0 L553.0,895.0" fill="none" stroke="#1b3a7c" stroke-width="0.55" stroke-opacity="0.9"/>
<path d="M424.0,820.0 L424.0,895.0" fill="none" stroke="#1b3a7c" stroke-width="0.55" stroke-opacity="0.9"/>
<path d="M485.0,820.0 L485.0,895.0" fill="none" stroke="#1b3a7c" stroke-width="0.55" stroke-opacity="0.9"/>
<path d="M333.0,890.0 L356.0,890.0" fill="none" stroke="#1b3a7c" stroke-width="0.55" stroke-opacity="0.9"/>
<path d="M576.0,890.0 L553.0,890.0" fill="none" stroke="#1b3a7c" stroke-width="0.55" stroke-opacity="0.9"/>
<path d="M336.3,1036.0 L206.6,1094.0" fill="none" stroke="#1b3a7c" stroke-width="0.55" stroke-opacity="0.9"/>
<path d="M572.3,1036.0 L702.0,1094.0" fill="none" stroke="#1b3a7c" stroke-width="0.55" stroke-opacity="0.9"/>
<path d="M306.6,1051.0 L276.0,1061.0" fill="none" stroke="#1b3a7c" stroke-width="0.55" stroke-opacity="0.9"/>
<path d="M602.0,1051.0 L632.6,1061.0" fill="none" stroke="#1b3a7c" stroke-width="0.55" stroke-opacity="0.9"/>
<path d="M206.6,1094.0 L218.8,1120.0" fill="none" stroke="#1b3a7c" stroke-width="0.55" stroke-opacity="0.8"/>
<path d="M702.0,1094.0 L689.8,1120.0" fill="none" stroke="#1b3a7c" stroke-width="0.55" stroke-opacity="0.8"/>
<path d="M430.0,1110.0 L480.0,1110.0" fill="none" stroke="#1b3a7c" stroke-width="0.55" stroke-opacity="0.9"/>
<path d="M436.0,1165.0 L473.0,1165.0" fill="none" stroke="#1b3a7c" stroke-width="0.55" stroke-opacity="0.9"/>
<path d="M447.0,1000.0 L449.0,1180.0" fill="none" stroke="#1b3a7c" stroke-width="0.55" stroke-opacity="0.7"/>
<path d="M462.0,1000.0 L460.0,1180.0" fill="none" stroke="#1b3a7c" stroke-width="0.55" stroke-opacity="0.7"/>
</g>
<path d="M430,1017.9V1083.6" stroke="#5e4d35" stroke-width="3.6"/>
<path d="M430,1018.5V1083" stroke="#eadfc6" stroke-width="2.1" stroke-dasharray="2.1,1.2"/>
<path d="M435.5,1017.9V1104.6" stroke="#5e4d35" stroke-width="3.6"/>
<path d="M435.5,1018.5V1104" stroke="#eadfc6" stroke-width="2.1" stroke-dasharray="2.1,1.2"/>
<path d="M473.5,1017.9V1104.6" stroke="#5e4d35" stroke-width="3.6"/>
<path d="M473.5,1018.5V1104" stroke="#eadfc6" stroke-width="2.1" stroke-dasharray="2.1,1.2"/>
<path d="M479,1017.9V1083.6" stroke="#5e4d35" stroke-width="3.6"/>
<path d="M479,1018.5V1083" stroke="#eadfc6" stroke-width="2.1" stroke-dasharray="2.1,1.2"/>
<path d="M451.5,1106.4V1128.1" stroke="#5e4d35" stroke-width="3.6"/>
<path d="M451.5,1107V1127.5" stroke="#eadfc6" stroke-width="2.1" stroke-dasharray="2.1,1.2"/>
<path d="M457,1106.4V1128.1" stroke="#5e4d35" stroke-width="3.6"/>
<path d="M457,1107V1127.5" stroke="#eadfc6" stroke-width="2.1" stroke-dasharray="2.1,1.2"/>
<path d="M220,1120.5v7" stroke="#888" stroke-width="0.9"/><path d="M688.6,1120.5v7" stroke="#888" stroke-width="0.9"/>
<path d="M232,1119.1v7" stroke="#888" stroke-width="0.9"/><path d="M676.6,1119.1v7" stroke="#888" stroke-width="0.9"/>
<path d="M244,1117.6v7" stroke="#888" stroke-width="0.9"/><path d="M664.6,1117.6v7" stroke="#888" stroke-width="0.9"/>
<path d="M343.0,605.5 L62.0,858.0 L62.0,960.0 L173.0,931.6 L333.5,890.0" fill="none" stroke="#1b3a7c" stroke-width="0.5" stroke-opacity="0.55"/>
<path d="M566.0,605.5 L847.0,858.0 L847.0,960.0 L736.0,931.6 L575.5,890.0" fill="none" stroke="#1b3a7c" stroke-width="0.5" stroke-opacity="0.55"/>
<path d="M334.0,933.3 L192.5,1072.0 L218.8,1120.6 L339.5,1106.7" fill="none" stroke="#1b3a7c" stroke-width="0.5" stroke-opacity="0.55"/>
<path d="M574.6,933.3 L716.1,1072.0 L689.8,1120.6 L569.1,1106.7" fill="none" stroke="#1b3a7c" stroke-width="0.5" stroke-opacity="0.55"/>
<g clip-path="url(#ac)">
<path d="M66.0,855.0 L348.5,648.0 L348.5,696.0 L560.5,696.0 L560.5,648.0 L843.0,855.0" fill="none" stroke="#e03a48" stroke-width="1.1" stroke-opacity="1" stroke-dasharray="4.2,2.3"/>
<path d="M70.0,928.0 L316.0,846.4" fill="none" stroke="#e03a48" stroke-width="1.1" stroke-opacity="1" stroke-dasharray="4.2,2.3"/>
<path d="M839.0,928.0 L593.0,846.4" fill="none" stroke="#e03a48" stroke-width="1.1" stroke-opacity="1" stroke-dasharray="4.2,2.3"/>
</g>
<g transform="rotate(-38,221,723)"><path d="M214,721.8h9M214,724.2h9" stroke="#e03a48" stroke-width="0.7"/><path d="M225,721.2l3.6,3.6m0,-3.6l-3.6,3.6" stroke="#e03a48" stroke-width="0.7"/></g>
<g transform="rotate(218,688.0,723)"><path d="M681.0,721.8h9M681.0,724.2h9" stroke="#e03a48" stroke-width="0.7"/><path d="M692.0,721.2l3.6,3.6m0,-3.6l-3.6,3.6" stroke="#e03a48" stroke-width="0.7"/></g>
<g transform="rotate(-38,309,661)"><path d="M302,659.8h9M302,662.2h9" stroke="#e03a48" stroke-width="0.7"/><path d="M313,659.2l3.6,3.6m0,-3.6l-3.6,3.6" stroke="#e03a48" stroke-width="0.7"/></g>
<g transform="rotate(218,600.0,661)"><path d="M593.0,659.8h9M593.0,662.2h9" stroke="#e03a48" stroke-width="0.7"/><path d="M604.0,659.2l3.6,3.6m0,-3.6l-3.6,3.6" stroke="#e03a48" stroke-width="0.7"/></g>
<g transform="rotate(-38,146,781)"><path d="M139,779.8h9M139,782.2h9" stroke="#e03a48" stroke-width="0.7"/><path d="M150,779.2l3.6,3.6m0,-3.6l-3.6,3.6" stroke="#e03a48" stroke-width="0.7"/></g>
<g transform="rotate(218,763.0,781)"><path d="M756.0,779.8h9M756.0,782.2h9" stroke="#e03a48" stroke-width="0.7"/><path d="M767.0,779.2l3.6,3.6m0,-3.6l-3.6,3.6" stroke="#e03a48" stroke-width="0.7"/></g>
<g transform="rotate(-16,195,898)"><path d="M188,896.8h9M188,899.2h9" stroke="#e03a48" stroke-width="0.7"/><path d="M199,896.2l3.6,3.6m0,-3.6l-3.6,3.6" stroke="#e03a48" stroke-width="0.7"/></g>
<g transform="rotate(196,714.0,898)"><path d="M707.0,896.8h9M707.0,899.2h9" stroke="#e03a48" stroke-width="0.7"/><path d="M718.0,896.2l3.6,3.6m0,-3.6l-3.6,3.6" stroke="#e03a48" stroke-width="0.7"/></g>
<g transform="rotate(-16,312,845)"><path d="M305,843.8h9M305,846.2h9" stroke="#e03a48" stroke-width="0.7"/><path d="M316,843.2l3.6,3.6m0,-3.6l-3.6,3.6" stroke="#e03a48" stroke-width="0.7"/></g>
<g transform="rotate(196,597.0,845)"><path d="M590.0,843.8h9M590.0,846.2h9" stroke="#e03a48" stroke-width="0.7"/><path d="M601.0,843.2l3.6,3.6m0,-3.6l-3.6,3.6" stroke="#e03a48" stroke-width="0.7"/></g>
<g transform="rotate(-16,114,935)"><path d="M107,933.8h9M107,936.2h9" stroke="#e03a48" stroke-width="0.7"/><path d="M118,933.2l3.6,3.6m0,-3.6l-3.6,3.6" stroke="#e03a48" stroke-width="0.7"/></g>
<g transform="rotate(196,795.0,935)"><path d="M788.0,933.8h9M788.0,936.2h9" stroke="#e03a48" stroke-width="0.7"/><path d="M799.0,933.2l3.6,3.6m0,-3.6l-3.6,3.6" stroke="#e03a48" stroke-width="0.7"/></g>
<g transform="rotate(-20,262,1068)"><path d="M255,1066.8h9M255,1069.2h9" stroke="#e03a48" stroke-width="0.7"/><path d="M266,1066.2l3.6,3.6m0,-3.6l-3.6,3.6" stroke="#e03a48" stroke-width="0.7"/></g>
<g transform="rotate(200,647.0,1068)"><path d="M640.0,1066.8h9M640.0,1069.2h9" stroke="#e03a48" stroke-width="0.7"/><path d="M651.0,1066.2l3.6,3.6m0,-3.6l-3.6,3.6" stroke="#e03a48" stroke-width="0.7"/></g>
<g transform="rotate(0,386,655)"><path d="M379,653.8h9M379,656.2h9" stroke="#e03a48" stroke-width="0.7"/><path d="M390,653.2l3.6,3.6m0,-3.6l-3.6,3.6" stroke="#e03a48" stroke-width="0.7"/></g>
<g transform="rotate(180,523.0,655)"><path d="M516.0,653.8h9M516.0,656.2h9" stroke="#e03a48" stroke-width="0.7"/><path d="M527.0,653.2l3.6,3.6m0,-3.6l-3.6,3.6" stroke="#e03a48" stroke-width="0.7"/></g>
<path d="M459.8,526.5l2.6,4.6h-5.2z" fill="#f4d512" stroke="#5a4d08" stroke-width="0.3"/>
<rect x="453.8" y="547.9" width="12" height="3.2" fill="#f2d211" stroke="#5a4d08" stroke-width="0.3"/>
<path d="M503,615.5l2.6,4.6h-5.2z" fill="#f4d512" stroke="#5a4d08" stroke-width="0.3"/>
<rect x="497.5" y="631.4" width="12" height="3.2" fill="#f2d211" stroke="#5a4d08" stroke-width="0.3"/>
<path d="M452,924.5l2.6,4.6h-5.2z" fill="#f4d512" stroke="#5a4d08" stroke-width="0.3"/>
<rect x="446.4" y="941.6999999999999" width="12" height="3.2" fill="#f2d211" stroke="#5a4d08" stroke-width="0.3"/>
<path d="M452,1012.5l2.6,4.6h-5.2z" fill="#f4d512" stroke="#5a4d08" stroke-width="0.3"/>
<rect x="446" y="1028.2" width="12" height="3.2" fill="#f2d211" stroke="#5a4d08" stroke-width="0.3"/>
<path d="M294,733l2.6,4.6h-5.2z" fill="#f4d512" stroke="#5a4d08" stroke-width="0.3"/>
<path d="M616,741l2.6,4.6h-5.2z" fill="#f4d512" stroke="#5a4d08" stroke-width="0.3"/>
<g transform="rotate(-25,301,752)"><rect x="295" y="750.4" width="12" height="3.2" fill="#f2d211" stroke="#5a4d08" stroke-width="0.3"/></g>
<g transform="rotate(25,608,752)"><rect x="602" y="750.4" width="12" height="3.2" fill="#f2d211" stroke="#5a4d08" stroke-width="0.3"/></g>
<circle cx="298.5" cy="745.5" r="3" fill="none" stroke="#1b3a7c" stroke-width="0.5"/><circle cx="610.5" cy="745.5" r="3" fill="none" stroke="#1b3a7c" stroke-width="0.5"/>
<text transform="translate(186.5,819) rotate(180)" font-family="Liberation Sans" font-size="17" textLength="16" lengthAdjust="spacingAndGlyphs" fill="#1a2c5e">26</text>
<defs><linearGradient id="glass" x1="0" x2="1" y1="0" y2="0"><stop offset="0" stop-color="#a9bbdf"/><stop offset="0.3" stop-color="#ffffff"/><stop offset="0.62" stop-color="#f3f5fa"/><stop offset="1" stop-color="#adbee0"/></linearGradient></defs>
<path d="M366.0,531.0 L360.0,536.0 L356.5,548.0 L357.0,556.0 L360.5,552.0 L365.0,540.0Z" fill="#9db0c0" stroke="#6f879c" stroke-width="0.5"/>
<path d="M543.0,531.0 L549.0,536.0 L552.5,548.0 L552.0,556.0 L548.5,552.0 L544.0,540.0Z" fill="#9db0c0" stroke="#6f879c" stroke-width="0.5"/>
<path d="M353.0,568.0 L347.0,574.0 L344.0,584.0 L344.5,588.0 L349.0,583.0 L353.0,574.0Z" fill="#9db0c0" stroke="#6f879c" stroke-width="0.5"/>
<path d="M556.0,568.0 L562.0,574.0 L565.0,584.0 L564.5,588.0 L560.0,583.0 L556.0,574.0Z" fill="#9db0c0" stroke="#6f879c" stroke-width="0.5"/>
<path d="M62.0,858.0 L62.0,764.0 L64.3,756.5 L66.7,764.0 L66.7,858.0Z" fill="#1a9bd5"/>
<path d="M847.0,858.0 L847.0,764.0 L844.7,756.5 L842.3,764.0 L842.3,858.0Z" fill="#1a9bd5"/>
<path d="M343.5,873.0 L357.0,873.0 L357.0,899.0 L353.5,900.0 L353.5,944.0 L349.5,985.0 L343.5,985.0Z" fill="#c9cace" stroke="#1b3a7c" stroke-width="0.4"/>
<path d="M356.0,1021.7 L356.0,903.0 L358.0,897.0 L363.0,895.3 L415.0,895.3 L420.0,897.0 L422.0,903.0 L424.2,1021.7Z" fill="#c8a874"/>
<path d="M355.3,1021.7 L360.4,1071.5 L361.7,1072.8 L373.2,1108.5 L410.2,1108.5 L420.4,1072.8 L421.7,1071.5 L424.2,1021.7Z" fill="#c8a874"/>
<path d="M362.0,899.0 L360.5,952.0 L363.0,957.5 L415.0,957.5 L418.5,953.0 L419.0,899.0 L416.0,896.5 L365.0,896.5Z" fill="none" stroke="#6b5a3c" stroke-width="0.5"/>
<path d="M356.0,958.8 L424.0,958.8" fill="none" stroke="#6b5a3c" stroke-width="0.5"/>
<path d="M394.0,958.8 L394.0,1021.0" fill="none" stroke="#6b5a3c" stroke-width="0.5"/>
<path d="M356.0,1021.7 L424.2,1021.7" fill="none" stroke="#6b5a3c" stroke-width="0.5"/>
<path d="M361.0,1072.0 L421.0,1072.0" fill="none" stroke="#6b5a3c" stroke-width="0.6"/>
<path d="M400.0,1021.7 L400.0,1040.0 L421.0,1040.0" fill="none" stroke="#6b5a3c" stroke-width="0.5"/>
<rect x="389.0" y="909" width="8" height="7.5" rx="1.5" fill="none" stroke="#6b5a3c" stroke-width="0.5"/>
<rect x="394.0" y="929" width="9" height="8.5" rx="1.5" fill="none" stroke="#6b5a3c" stroke-width="0.5"/>
<rect x="372.0" y="975" width="9" height="9" rx="1.5" fill="none" stroke="#6b5a3c" stroke-width="0.5"/>
<rect x="357.0" y="976" width="5" height="8" rx="1.5" fill="none" stroke="#6b5a3c" stroke-width="0.5"/>
<rect x="400.0" y="975" width="10" height="9" rx="1.5" fill="none" stroke="#6b5a3c" stroke-width="0.5"/>
<rect x="415.0" y="977" width="5" height="8" rx="1.5" fill="none" stroke="#6b5a3c" stroke-width="0.5"/>
<ellipse cx="408.5" cy="934" rx="3" ry="3.8" fill="none" stroke="#6b5a3c" stroke-width="0.5"/>
<path d="M361.3,1045.0 L367.0,1071.5" fill="none" stroke="#6b5a3c" stroke-width="0.45"/>
<path d="M365.3,1073.0 L375.8,1108.5" fill="none" stroke="#6b5a3c" stroke-width="0.45"/>
<path d="M366.1,1045.0 L371.0,1071.5" fill="none" stroke="#6b5a3c" stroke-width="0.45"/>
<path d="M369.6,1073.0 L378.5,1108.5" fill="none" stroke="#6b5a3c" stroke-width="0.45"/>
<path d="M370.9,1045.0 L375.0,1071.5" fill="none" stroke="#6b5a3c" stroke-width="0.45"/>
<path d="M373.9,1073.0 L381.1,1108.5" fill="none" stroke="#6b5a3c" stroke-width="0.45"/>
<path d="M375.6,1045.0 L379.0,1071.5" fill="none" stroke="#6b5a3c" stroke-width="0.45"/>
<path d="M378.1,1073.0 L383.8,1108.5" fill="none" stroke="#6b5a3c" stroke-width="0.45"/>
<path d="M380.4,1045.0 L383.0,1071.5" fill="none" stroke="#6b5a3c" stroke-width="0.45"/>
<path d="M382.4,1073.0 L386.4,1108.5" fill="none" stroke="#6b5a3c" stroke-width="0.45"/>
<path d="M385.2,1045.0 L387.0,1071.5" fill="none" stroke="#6b5a3c" stroke-width="0.45"/>
<path d="M386.7,1073.0 L389.1,1108.5" fill="none" stroke="#6b5a3c" stroke-width="0.45"/>
<path d="M390.0,1045.0 L391.0,1071.5" fill="none" stroke="#6b5a3c" stroke-width="0.45"/>
<path d="M391.0,1073.0 L391.7,1108.5" fill="none" stroke="#6b5a3c" stroke-width="0.45"/>
<path d="M394.8,1045.0 L395.0,1071.5" fill="none" stroke="#6b5a3c" stroke-width="0.45"/>
<path d="M395.3,1073.0 L394.3,1108.5" fill="none" stroke="#6b5a3c" stroke-width="0.45"/>
<path d="M399.6,1045.0 L399.0,1071.5" fill="none" stroke="#6b5a3c" stroke-width="0.45"/>
<path d="M399.6,1073.0 L397.0,1108.5" fill="none" stroke="#6b5a3c" stroke-width="0.45"/>
<path d="M404.4,1045.0 L403.0,1071.5" fill="none" stroke="#6b5a3c" stroke-width="0.45"/>
<path d="M403.9,1073.0 L399.6,1108.5" fill="none" stroke="#6b5a3c" stroke-width="0.45"/>
<path d="M409.1,1045.0 L407.0,1071.5" fill="none" stroke="#6b5a3c" stroke-width="0.45"/>
<path d="M408.1,1073.0 L402.3,1108.5" fill="none" stroke="#6b5a3c" stroke-width="0.45"/>
<path d="M413.9,1045.0 L411.0,1071.5" fill="none" stroke="#6b5a3c" stroke-width="0.45"/>
<path d="M412.4,1073.0 L404.9,1108.5" fill="none" stroke="#6b5a3c" stroke-width="0.45"/>
<path d="M418.7,1045.0 L415.0,1071.5" fill="none" stroke="#6b5a3c" stroke-width="0.45"/>
<path d="M416.7,1073.0 L407.6,1108.5" fill="none" stroke="#6b5a3c" stroke-width="0.45"/>
<path d="M554.6,1021.7 L554.6,903.0 L552.6,897.0 L547.6,895.3 L495.6,895.3 L490.6,897.0 L488.6,903.0 L486.4,1021.7Z" fill="#c8a874"/>
<path d="M555.3,1021.7 L550.2,1071.5 L548.9,1072.8 L537.4,1108.5 L500.4,1108.5 L490.2,1072.8 L488.9,1071.5 L486.4,1021.7Z" fill="#c8a874"/>
<path d="M548.6,899.0 L550.1,952.0 L547.6,957.5 L495.6,957.5 L492.1,953.0 L491.6,899.0 L494.6,896.5 L545.6,896.5Z" fill="none" stroke="#6b5a3c" stroke-width="0.5"/>
<path d="M554.6,958.8 L486.6,958.8" fill="none" stroke="#6b5a3c" stroke-width="0.5"/>
<path d="M516.6,958.8 L516.6,1021.0" fill="none" stroke="#6b5a3c" stroke-width="0.5"/>
<path d="M554.6,1021.7 L486.4,1021.7" fill="none" stroke="#6b5a3c" stroke-width="0.5"/>
<path d="M549.6,1072.0 L489.6,1072.0" fill="none" stroke="#6b5a3c" stroke-width="0.6"/>
<path d="M510.6,1021.7 L510.6,1040.0 L489.6,1040.0" fill="none" stroke="#6b5a3c" stroke-width="0.5"/>
<rect x="513.6" y="909" width="8" height="7.5" rx="1.5" fill="none" stroke="#6b5a3c" stroke-width="0.5"/>
<rect x="507.6" y="929" width="9" height="8.5" rx="1.5" fill="none" stroke="#6b5a3c" stroke-width="0.5"/>
<rect x="529.6" y="975" width="9" height="9" rx="1.5" fill="none" stroke="#6b5a3c" stroke-width="0.5"/>
<rect x="548.6" y="976" width="5" height="8" rx="1.5" fill="none" stroke="#6b5a3c" stroke-width="0.5"/>
<rect x="500.6" y="975" width="10" height="9" rx="1.5" fill="none" stroke="#6b5a3c" stroke-width="0.5"/>
<rect x="490.6" y="977" width="5" height="8" rx="1.5" fill="none" stroke="#6b5a3c" stroke-width="0.5"/>
<ellipse cx="502.1" cy="934" rx="3" ry="3.8" fill="none" stroke="#6b5a3c" stroke-width="0.5"/>
<path d="M549.3,1045.0 L543.6,1071.5" fill="none" stroke="#6b5a3c" stroke-width="0.45"/>
<path d="M545.3,1073.0 L534.8,1108.5" fill="none" stroke="#6b5a3c" stroke-width="0.45"/>
<path d="M544.5,1045.0 L539.6,1071.5" fill="none" stroke="#6b5a3c" stroke-width="0.45"/>
<path d="M541.0,1073.0 L532.1,1108.5" fill="none" stroke="#6b5a3c" stroke-width="0.45"/>
<path d="M539.7,1045.0 L535.6,1071.5" fill="none" stroke="#6b5a3c" stroke-width="0.45"/>
<path d="M536.7,1073.0 L529.5,1108.5" fill="none" stroke="#6b5a3c" stroke-width="0.45"/>
<path d="M535.0,1045.0 L531.6,1071.5" fill="none" stroke="#6b5a3c" stroke-width="0.45"/>
<path d="M532.5,1073.0 L526.8,1108.5" fill="none" stroke="#6b5a3c" stroke-width="0.45"/>
<path d="M530.2,1045.0 L527.6,1071.5" fill="none" stroke="#6b5a3c" stroke-width="0.45"/>
<path d="M528.2,1073.0 L524.2,1108.5" fill="none" stroke="#6b5a3c" stroke-width="0.45"/>
<path d="M525.4,1045.0 L523.6,1071.5" fill="none" stroke="#6b5a3c" stroke-width="0.45"/>
<path d="M523.9,1073.0 L521.5,1108.5" fill="none" stroke="#6b5a3c" stroke-width="0.45"/>
<path d="M520.6,1045.0 L519.6,1071.5" fill="none" stroke="#6b5a3c" stroke-width="0.45"/>
<path d="M519.6,1073.0 L518.9,1108.5" fill="none" stroke="#6b5a3c" stroke-width="0.45"/>
<path d="M515.8,1045.0 L515.6,1071.5" fill="none" stroke="#6b5a3c" stroke-width="0.45"/>
<path d="M515.3,1073.0 L516.3,1108.5" fill="none" stroke="#6b5a3c" stroke-width="0.45"/>
<path d="M511.0,1045.0 L511.6,1071.5" fill="none" stroke="#6b5a3c" stroke-width="0.45"/>
<path d="M511.0,1073.0 L513.6,1108.5" fill="none" stroke="#6b5a3c" stroke-width="0.45"/>
<path d="M506.2,1045.0 L507.6,1071.5" fill="none" stroke="#6b5a3c" stroke-width="0.45"/>
<path d="M506.7,1073.0 L511.0,1108.5" fill="none" stroke="#6b5a3c" stroke-width="0.45"/>
<path d="M501.5,1045.0 L503.6,1071.5" fill="none" stroke="#6b5a3c" stroke-width="0.45"/>
<path d="M502.5,1073.0 L508.3,1108.5" fill="none" stroke="#6b5a3c" stroke-width="0.45"/>
<path d="M496.7,1045.0 L499.6,1071.5" fill="none" stroke="#6b5a3c" stroke-width="0.45"/>
<path d="M498.2,1073.0 L505.7,1108.5" fill="none" stroke="#6b5a3c" stroke-width="0.45"/>
<path d="M491.9,1045.0 L495.6,1071.5" fill="none" stroke="#6b5a3c" stroke-width="0.45"/>
<path d="M493.9,1073.0 L503.0,1108.5" fill="none" stroke="#6b5a3c" stroke-width="0.45"/>
<path d="M454.6,41.7 C449,58 441,80 433,104 C426,126 422,160 420.9,191 L488.1,191 C487,160 483,126 476.5,104 C468.5,80 460.5,58 454.6,41.7Z" fill="#8a999d"/>
<path d="M420.9,189.3 Q454.5,185.5 488.1,189.3 L488.1,192 Q454.5,188.5 420.9,192Z" fill="#7b888c"/>
<rect x="453" y="21" width="3.5" height="21" fill="#c9cdd0" stroke="#808a8e" stroke-width="0.5"/>
<line x1="454.7" y1="2" x2="454.7" y2="21" stroke="#8a9397" stroke-width="1.3"/>
<path d="M427.0,193.0 L427.0,212.0 L421.0,222.0" fill="none" stroke="#6f757b" stroke-width="0.5" stroke-opacity="1"/>
<path d="M482.0,193.0 L482.0,212.0 L488.0,222.0" fill="none" stroke="#6f757b" stroke-width="0.5" stroke-opacity="1"/>
<path d="M427.0,203.0 L436.0,201.0 L447.0,203.0 L462.0,203.0 L473.0,201.0 L482.0,203.0" fill="none" stroke="#6f757b" stroke-width="0.5" stroke-opacity="1"/>
<path d="M432.0,203.0 L431.0,240.0 L436.0,250.0 L433.0,270.0" fill="none" stroke="#6f757b" stroke-width="0.5" stroke-opacity="1"/>
<path d="M477.0,203.0 L478.0,240.0 L473.0,250.0" fill="none" stroke="#6f757b" stroke-width="0.5" stroke-opacity="1"/>
<circle cx="453.8" cy="196.3" r="2.6" fill="none" stroke="#6f757b" stroke-width="0.5"/>
<ellipse cx="440" cy="224" rx="1.3" ry="2.3" fill="none" stroke="#6f757b" stroke-width="0.5"/><ellipse cx="468.7" cy="224" rx="1.3" ry="2.3" fill="none" stroke="#6f757b" stroke-width="0.5"/>
<path d="M454.5,226.5 C446,228 438.5,240 435.3,252 C432.6,275 431.8,300 432,319 C432.3,345 435.5,372 439.5,388.5 Q454.5,394.5 469.5,388.5 C473.5,372 476.3,345 476.2,319 C476,300 475.6,275 473.2,252 C470,240 463,228 454.5,226.5Z" fill="url(#glass)" stroke="#3d5c9e" stroke-width="0.8"/>
<path d="M433.2,290 Q454.5,279.5 475.6,290" fill="none" stroke="#8f9bb0" stroke-width="0.8"/><path d="M433.4,286.5 Q454.5,276 475.4,286.5" fill="none" stroke="#8f9bb0" stroke-width="0.8"/>
<path d="M436.3,369 Q454.5,357 472.7,369" fill="none" stroke="#2e52a1" stroke-width="2.6"/>
<path d="M430.8,252 C432.5,240 439,229 446.5,223.5" fill="none" stroke="#8d959c" stroke-width="1.1"/><path d="M477.7,252 C476,240 469.5,229 462,223.5" fill="none" stroke="#8d959c" stroke-width="1.1"/>
<rect x="446" y="215" width="16.6" height="30" rx="5.5" fill="#b4b7bb" stroke="#80858a" stroke-width="0.6"/>
<path d="M436.5,388 L444,414 L454.5,431 L465,414 L472.5,388" fill="none" stroke="#152a62" stroke-width="1.1"/>
<path d="M433,330 L436,392 L441,420" fill="none" stroke="#1b3a7c" stroke-width="0.5"/><path d="M476,330 L473,392 L468,420" fill="none" stroke="#1b3a7c" stroke-width="0.5"/>
<path d="M413.5,372 L425,378 L425,381.5 L413.5,376Z" fill="#d3d9e0" stroke="#8896a8" stroke-width="0.4"/><path d="M496,372 L485,378 L485,381.5 L496,376Z" fill="#d3d9e0" stroke="#8896a8" stroke-width="0.4"/>
<rect x="413.5" y="400.5" width="4.5" height="3.5" fill="#fff"/>
<path d="M414,330 L413,372 M421,336 L420,392" stroke="#1b3a7c" stroke-width="0.5" fill="none"/><path d="M495,330 L496,372 M488,336 L489,392" stroke="#1b3a7c" stroke-width="0.5" fill="none"/>
<text transform="translate(413.5,266.5) rotate(90)" font-family="Liberation Sans" font-weight="bold" font-size="12" textLength="40" lengthAdjust="spacingAndGlyphs" fill="#2e52a1" stroke="#fff" stroke-width="0.9" paint-order="stroke">58</text>
<text transform="translate(496,307) rotate(-90)" font-family="Liberation Sans" font-weight="bold" font-size="12" textLength="41" lengthAdjust="spacingAndGlyphs" fill="#2e52a1" stroke="#fff" stroke-width="0.9" paint-order="stroke">58</text>
<path d="M497.0,384.6 L510.2,384.6 L512.4,396.3 L515.3,418.2 L516.0,427.0 L513.8,427.7 L513.8,446.7 L500.7,446.7 L500.7,431.4 L498.5,428.5 L497.0,413.8Z" fill="#c8a874"/>
<path d="M505,410 L505,404 Q507.7,399 510.4,404 L510.4,410 L512,410 L512,428 L510,428 L509,442 L506.5,442 L505.5,428 L504,428 L504,410Z" fill="none" stroke="#6b5a3c" stroke-width="0.5"/>
<path d="M501.4,487.7 L516.8,487.7 L518.2,524.2 L501.4,524.2Z" fill="#c8a874" stroke="#6b5a3c" stroke-width="0.4"/>
<path d="M501.4,507.4 L517.5,507.4" fill="none" stroke="#6b5a3c" stroke-width="0.4" stroke-opacity="1"/>
<circle cx="163.2" cy="864" r="17.8" fill="#f7d417"/><circle cx="163.2" cy="864" r="9.6" fill="#27499c"/>
<circle cx="745.8" cy="864" r="17.8" fill="#f7d417"/><circle cx="745.8" cy="864" r="9.6" fill="#27499c"/>
<path d="M434.5,1182.5 L474,1182.5 L473,1187.6 L435.5,1187.6Z" fill="#a9b7c4"/>
<path d="M447,1200 L454.1,1213.2 L461.5,1200Z" fill="#9aa9b6"/>
<rect x="48" y="22.3" width="69" height="34.3" fill="#c9cace"/>
<text x="128.5" y="48.3" font-family="Liberation Sans" font-size="31.5" font-weight="normal" fill="#1f1f1f" text-anchor="start" textLength="89.0" lengthAdjust="spacingAndGlyphs">MRP-046</text>
<text x="128.5" y="86.7" font-family="Liberation Sans" font-size="31.5" font-weight="normal" fill="#1f1f1f" text-anchor="start" textLength="131.0" lengthAdjust="spacingAndGlyphs">HATAKA C264</text>
<rect x="48" y="108.3" width="69" height="34.3" fill="#1a9bd5"/>
<text x="128.5" y="134.3" font-family="Liberation Sans" font-size="31.5" font-weight="normal" fill="#1f1f1f" text-anchor="start" textLength="88.0" lengthAdjust="spacingAndGlyphs">MRP-044</text>
<text x="128.5" y="172.7" font-family="Liberation Sans" font-size="31.5" font-weight="normal" fill="#1f1f1f" text-anchor="start" textLength="132.0" lengthAdjust="spacingAndGlyphs">HATAKA C320</text>
<rect x="48" y="194.3" width="69" height="34.3" fill="#2e52a1"/>
<text x="128.5" y="220.3" font-family="Liberation Sans" font-size="31.5" font-weight="normal" fill="#1f1f1f" text-anchor="start" textLength="163.0" lengthAdjust="spacingAndGlyphs">MRP-045 or 384</text>
<text x="128.5" y="258.7" font-family="Liberation Sans" font-size="31.5" font-weight="normal" fill="#1f1f1f" text-anchor="start" textLength="131.0" lengthAdjust="spacingAndGlyphs">HATAKA C220</text>
<rect x="48" y="280.3" width="69" height="34.3" fill="#8a999d"/>
<text x="128.5" y="306.3" font-family="Liberation Sans" font-size="31.5" font-weight="normal" fill="#1f1f1f" text-anchor="start" textLength="87.0" lengthAdjust="spacingAndGlyphs">MRP-047</text>
<text x="128.5" y="344.7" font-family="Liberation Sans" font-size="31.5" font-weight="normal" fill="#1f1f1f" text-anchor="start" textLength="131.0" lengthAdjust="spacingAndGlyphs">HATAKA C265</text>
<rect x="48" y="366.3" width="69" height="34.3" fill="#94d6f5"/>
<text x="128.5" y="392.3" font-family="Liberation Sans" font-size="31.5" font-weight="normal" fill="#1f1f1f" text-anchor="start" textLength="88.0" lengthAdjust="spacingAndGlyphs">MRP-043</text>
<text x="128.5" y="430.7" font-family="Liberation Sans" font-size="31.5" font-weight="normal" fill="#1f1f1f" text-anchor="start" textLength="125.0" lengthAdjust="spacingAndGlyphs">HATAKA C321</text>
<rect x="48" y="452.3" width="69" height="34.3" fill="#c8a874"/>
<text x="128.5" y="478.3" font-family="Liberation Sans" font-size="31.5" font-weight="normal" fill="#1f1f1f" text-anchor="start" textLength="117.0" lengthAdjust="spacingAndGlyphs">BURNT IRON</text>
<rect x="696" y="2" width="152.5" height="95.5" rx="10" ry="10" fill="none" stroke="#111" stroke-width="5.5"/>
<g fill="#111">
<rect x="721" y="33.3" width="4.5" height="41.1"/><rect x="721" y="51.5" width="30" height="4"/><rect x="746.6" y="33.3" width="4.4" height="22.2"/>
<path d="M773.2,16.6 L747.7,74.4 L758.8,74.4 L773.2,30 L788,74.4 L798.8,74.4 Z"/>
<path d="M773.2,58.8 L764.4,74.4 L782.1,74.4 Z"/>
<path d="M796.5,33.3 L812,33.3 A20.5,20.5 0 0 1 812,74.4 L796.5,74.4 L796.5,70.4 L812,70.4 A16.5,16.5 0 0 0 812,37.3 L801,37.3 L801,56 L796.5,56 Z"/>
</g>
<text x="691.0" y="132.0" font-family="Liberation Serif" font-size="25.3" font-weight="bold" fill="#111" text-anchor="start" textLength="161.0" lengthAdjust="spacingAndGlyphs" stroke="#111" stroke-width="0.7">HADMODELS</text>
<text x="603.0" y="239.8" font-family="Liberation Sans" font-size="33" font-weight="normal" fill="#1f1f1f" text-anchor="start" textLength="248.5" lengthAdjust="spacingAndGlyphs">Su-27P1M upper surfaces</text>
<text x="604.0" y="277.0" font-family="Liberation Sans" font-size="33" font-weight="normal" fill="#1f1f1f" text-anchor="start" textLength="228.0" lengthAdjust="spacingAndGlyphs">digit scheme from 2015</text>
<text x="0.7" y="1259.3" font-family="Liberation Sans" font-size="23.6" font-weight="bold" fill="#1a1a1a" text-anchor="start" textLength="201.0" lengthAdjust="spacingAndGlyphs" stroke="#1a1a1a" stroke-width="0.5">www.hadmodels.com</text>
<text x="0.7" y="1294.0" font-family="Liberation Sans" font-size="23.6" font-weight="bold" fill="#1a1a1a" text-anchor="start" textLength="201.5" lengthAdjust="spacingAndGlyphs" stroke="#1a1a1a" stroke-width="0.5">info@hadmodels.com</text>
<text x="577.0" y="1291.0" font-family="Liberation Sans" font-size="31.3" font-weight="normal" fill="#1f1f1f" text-anchor="start" textLength="322.0" lengthAdjust="spacingAndGlyphs">All graphics by Ferenc Szegedi 2022</text>
<path d="M538.225,412.2375V409.02500000000003Q538.225,406.225 541.025,406.225H544.725Q547.525,406.225 547.525,409.02500000000003V415.845L538.225,426.90799999999996V430.275H548.75M551.5450000000001,410.31350000000003L554.575,406.225V431.5" fill="none" stroke="#1d1d1d" stroke-width="2.45" stroke-linejoin="miter" stroke-linecap="butt"/>
<path d="M572.4,409 L584,429.6 L560.8,429.6Z" fill="#f4d512" stroke="#3a3208" stroke-width="0.7" stroke-dasharray="1.2,0.8" stroke-linejoin="round"/>
<path d="M572.4,415.07V421.46999999999997M569.1999999999999,418.27H575.6" stroke="#222" stroke-width="1.1"/><circle cx="572.4" cy="418.27" r="1.6" fill="#222"/>
<path d="M566.9,423.832H577.9M565.4,426.51H579.4" stroke="#4a3f0a" stroke-width="1.3" stroke-dasharray="0.9,0.5"/>
<path d="M626.225,430.6125V427.225Q626.225,424.425 629.025,424.425H632.7950000000001Q635.595,424.425 635.595,427.225V434.325L626.225,445.71V449.17499999999995H636.82M640.705,430.6125V427.225Q640.705,424.425 643.505,424.425H647.2750000000001Q650.075,424.425 650.075,427.225V434.325L640.705,445.71V449.17499999999995H651.3000000000001" fill="none" stroke="#1d1d1d" stroke-width="2.45" stroke-linejoin="miter" stroke-linecap="butt"/>
<rect x="656.6" y="429.6" width="50.19999999999993" height="14.0" fill="#f2d211"/>
<rect x="657.6" y="430.6" width="48.19999999999993" height="12.0" fill="none" stroke="#3a3208" stroke-width="0.8" stroke-dasharray="1.6,0.9"/>
<path d="M664.6,434.64000000000004H701.8M661.6,437.3H701.8M668.6,439.96000000000004H700.8" stroke="#6a5a10" stroke-width="1.1" stroke-dasharray="2.2,0.5,1.2,0.5"/>
<rect x="659.6" y="433.52000000000004" width="2.4" height="2.4" fill="#3a3208"/>
<g>
<path d="M555.5,488.2L568.9000000000001,501.59999999999997M568.9000000000001,488.2L555.5,501.59999999999997" stroke="#e8222a" stroke-width="2.7"/>
<text x="574.2" y="491.10" font-family="Liberation Sans" font-weight="bold" font-size="5.2" fill="#e8222a" textLength="48.5" lengthAdjust="spacingAndGlyphs">ТОНКАЯ ОБШИВКА</text>
<text x="574.2" y="497.30" font-family="Liberation Sans" font-weight="bold" font-size="5.2" fill="#e8222a" textLength="29.8" lengthAdjust="spacingAndGlyphs">НОГАМИ НЕ</text>
<text x="574.2" y="503.50" font-family="Liberation Sans" font-weight="bold" font-size="5.2" fill="#e8222a" textLength="38.6" lengthAdjust="spacingAndGlyphs">СТАНОВИТЬСЯ</text>
</g>
<path d="M581.625,515.472V513.025Q581.625,510.225 584.425,510.225H587.935Q590.7349999999999,510.225 590.7349999999999,513.025V520.073Q590.7349999999999,521.673 589.1349999999999,521.673H584.8135M589.1349999999999,521.673Q590.7349999999999,521.673 590.7349999999999,523.273V531.275Q590.7349999999999,534.0749999999999 587.935,534.0749999999999H584.425Q581.625,534.0749999999999 581.625,531.275V528.828M594.7950000000001,514.2795L597.975,510.225V535.3" fill="none" stroke="#1d1d1d" stroke-width="2.45" stroke-linejoin="miter" stroke-linecap="butt"/>
<path d="M695.525,484.01250000000005V480.82500000000005Q695.525,478.02500000000003 698.3249999999999,478.02500000000003H702.0849999999999Q704.8849999999999,478.02500000000003 704.8849999999999,480.82500000000005V487.605L695.525,498.62199999999996V501.97499999999997H706.1099999999999M708.9150000000001,482.09650000000005L711.975,478.02500000000003V503.2" fill="none" stroke="#1d1d1d" stroke-width="2.45" stroke-linejoin="miter" stroke-linecap="butt"/>
<path d="M729.0,480.6 L740,502 L718,502Z" fill="#f4d512" stroke="#3a3208" stroke-width="0.7" stroke-dasharray="1.2,0.8" stroke-linejoin="round"/>
<path d="M729.0,487.03000000000003V493.43M725.8,490.23H732.2" stroke="#222" stroke-width="1.1"/><circle cx="729.0" cy="490.23" r="1.6" fill="#222"/>
<path d="M723.5,496.008H734.5M722.0,498.79H736.0" stroke="#4a3f0a" stroke-width="1.3" stroke-dasharray="0.9,0.5"/>
<path d="M757.025,505.8875V502.725Q757.025,499.925 759.8249999999999,499.925H763.105Q765.905,499.925 765.905,502.725V509.465L757.025,520.436V523.775H767.13M770.895,505.8875V502.725Q770.895,499.925 773.6949999999999,499.925H776.975Q779.775,499.925 779.775,502.725V509.465L770.895,520.436V523.775H781.0" fill="none" stroke="#1d1d1d" stroke-width="2.45" stroke-linejoin="miter" stroke-linecap="butt"/>
<rect x="787" y="505" width="49" height="13.299999999999955" fill="#f2d211"/>
<rect x="788" y="506" width="47" height="11.299999999999955" fill="none" stroke="#3a3208" stroke-width="0.8" stroke-dasharray="1.6,0.9"/>
<path d="M795,509.788H831M792,512.3149999999999H831M799,514.842H830" stroke="#6a5a10" stroke-width="1.1" stroke-dasharray="2.2,0.5,1.2,0.5"/>
<rect x="790" y="508.724" width="2.4" height="2.4" fill="#3a3208"/>
<path d="M306.625,473.96250000000003V470.82500000000005Q306.625,468.02500000000003 309.425,468.02500000000003H312.62499999999994Q315.42499999999995,468.02500000000003 315.42499999999995,470.82500000000005V477.52500000000003L306.625,488.45V491.775H316.65M319.375,472.0625L322.17499999999995,468.02500000000003V493.0" fill="none" stroke="#1d1d1d" stroke-width="2.45" stroke-linejoin="miter" stroke-linecap="butt"/>
<path d="M340.65,471 L352.1,490.3 L329.2,490.3Z" fill="#f4d512" stroke="#3a3208" stroke-width="0.7" stroke-dasharray="1.2,0.8" stroke-linejoin="round"/>
<path d="M340.65,476.485V482.885M337.45,479.685H343.84999999999997" stroke="#222" stroke-width="1.1"/><circle cx="340.65" cy="479.685" r="1.6" fill="#222"/>
<path d="M335.15,484.896H346.15M333.65,487.40500000000003H347.65" stroke="#4a3f0a" stroke-width="1.3" stroke-dasharray="0.9,0.5"/>
<path d="M263.925,505.8125V502.593Q263.925,499.82500000000005 266.693,499.82500000000005H269.807Q272.575,499.82500000000005 272.575,502.593V509.40500000000003L263.925,520.422V523.775H273.8M277.52500000000003,505.8125V502.593Q277.52500000000003,499.82500000000005 280.293,499.82500000000005H283.40700000000004Q286.175,499.82500000000005 286.175,502.593V509.40500000000003L277.52500000000003,520.422V523.775H287.40000000000003" fill="none" stroke="#1d1d1d" stroke-width="2.45" stroke-linejoin="miter" stroke-linecap="butt"/>
<rect x="294.3" y="505.1" width="49.80000000000001" height="12.899999999999977" fill="#f2d211"/>
<rect x="295.3" y="506.1" width="47.80000000000001" height="10.899999999999977" fill="none" stroke="#3a3208" stroke-width="0.8" stroke-dasharray="1.6,0.9"/>
<path d="M302.3,509.744H339.1M299.3,512.195H339.1M306.3,514.646H338.1" stroke="#6a5a10" stroke-width="1.1" stroke-dasharray="2.2,0.5,1.2,0.5"/>
<rect x="297.3" y="508.712" width="2.4" height="2.4" fill="#3a3208"/>
<g>
<path d="M282.1,545.3L295.5,558.7M295.5,545.3L282.1,558.7" stroke="#e8222a" stroke-width="2.7"/>
<text x="300.8" y="548.20" font-family="Liberation Sans" font-weight="bold" font-size="5.2" fill="#e8222a" textLength="48.5" lengthAdjust="spacingAndGlyphs">ТОНКАЯ ОБШИВКА</text>
<text x="300.8" y="554.40" font-family="Liberation Sans" font-weight="bold" font-size="5.2" fill="#e8222a" textLength="29.8" lengthAdjust="spacingAndGlyphs">НОГАМИ НЕ</text>
<text x="300.8" y="560.60" font-family="Liberation Sans" font-weight="bold" font-size="5.2" fill="#e8222a" textLength="38.6" lengthAdjust="spacingAndGlyphs">СТАНОВИТЬСЯ</text>
</g>
<path d="M306.625,572.018V569.725Q306.625,566.9250000000001 309.425,566.9250000000001H312.81499999999994Q315.61499999999995,566.9250000000001 315.61499999999995,569.725V576.437Q315.61499999999995,578.037 314.01499999999993,578.037H309.7715M314.01499999999993,578.037Q315.61499999999995,578.037 315.61499999999995,579.6370000000001V587.275Q315.61499999999995,590.0749999999999 312.81499999999994,590.0749999999999H309.425Q306.625,590.0749999999999 306.625,587.275V584.982M319.65500000000003,570.8605L322.775,566.9250000000001V591.3" fill="none" stroke="#1d1d1d" stroke-width="2.45" stroke-linejoin="miter" stroke-linecap="butt"/>
<path d="M274.725,606.8125V603.625Q274.725,600.825 277.52500000000003,600.825H280.87499999999994Q283.67499999999995,600.825 283.67499999999995,603.625V610.405L274.725,621.422V624.775H284.9M287.47,600.825H297.175V603.6990000000001L291.40860000000004,626.0" fill="none" stroke="#1d1d1d" stroke-width="2.45" stroke-linejoin="miter" stroke-linecap="butt"/>
<path d="M587.225,579.7125000000001V576.6578000000001Q587.225,573.9250000000001 589.9578,573.9250000000001H593.0322Q595.765,573.9250000000001 595.765,576.6578000000001V583.1850000000001L587.225,593.834V597.0749999999999H596.99M599.47,573.9250000000001H608.775V576.7030000000001L603.2806,598.3" fill="none" stroke="#1d1d1d" stroke-width="2.45" stroke-linejoin="miter" stroke-linecap="butt"/>
<path d="M639.525,614.86V612.3249999999999Q639.525,609.525 642.3249999999999,609.525H645.9549999999999Q648.7549999999999,609.525 648.7549999999999,612.3249999999999V619.5649999999999Q648.7549999999999,621.165 647.1549999999999,621.165H642.7555M647.1549999999999,621.165Q648.7549999999999,621.165 648.7549999999999,622.765V630.975Q648.7549999999999,633.775 645.9549999999999,633.775H642.3249999999999Q639.525,633.775 639.525,630.975V628.4399999999999M652.835,613.6474999999999L656.075,609.525V635.0" fill="none" stroke="#1d1d1d" stroke-width="2.45" stroke-linejoin="miter" stroke-linecap="butt"/>
<path d="M758.725,661.4060000000001V659.025Q758.725,656.225 761.525,656.225H765.155Q767.9549999999999,656.225 767.9549999999999,659.025V665.929Q767.9549999999999,667.529 766.3549999999999,667.529H761.9555M766.3549999999999,667.529Q767.9549999999999,667.529 767.9549999999999,669.129V676.975Q767.9549999999999,679.775 765.155,679.775H761.525Q758.725,679.775 758.725,676.975V674.5939999999999M772.035,660.2285L775.275,656.225V681.0" fill="none" stroke="#1d1d1d" stroke-width="2.45" stroke-linejoin="miter" stroke-linecap="butt"/>
<path d="M808.225,737.6125V734.525Q808.225,731.725 811.025,731.725H814.975Q817.775,731.725 817.775,734.525V741.145L808.225,751.978V755.275H819.0M832.475,736.9060000000001V734.525Q832.475,731.725 829.6750000000001,731.725H825.725Q822.9250000000001,731.725 822.9250000000001,734.525V752.475Q822.9250000000001,755.275 825.725,755.275H829.6750000000001Q832.475,755.275 832.475,752.475V745.829Q832.475,743.029 829.6750000000001,743.029H822.9250000000001" fill="none" stroke="#1d1d1d" stroke-width="2.45" stroke-linejoin="miter" stroke-linecap="butt"/>
<path d="M118.6,596 L130.6,617.3 L106.6,617.3Z" fill="#f4d512" stroke="#3a3208" stroke-width="0.7" stroke-dasharray="1.2,0.8" stroke-linejoin="round"/>
<path d="M118.6,602.385V608.7850000000001M115.39999999999999,605.585H121.8" stroke="#222" stroke-width="1.1"/><circle cx="118.6" cy="605.585" r="1.6" fill="#222"/>
<path d="M113.1,611.336H124.1M111.6,614.105H125.6" stroke="#4a3f0a" stroke-width="1.3" stroke-dasharray="0.9,0.5"/>
<path d="M136.225,602.3625V599.025Q136.225,596.225 139.025,596.225H142.665Q145.465,596.225 145.465,599.025V606.045L136.225,617.338V620.775H146.69M149.475,600.3985L152.475,596.225V622.0" fill="none" stroke="#1d1d1d" stroke-width="2.45" stroke-linejoin="miter" stroke-linecap="butt"/>
<path d="M83.925,656.4875000000001V653.225Q83.925,650.4250000000001 86.725,650.4250000000001H90.22500000000001Q93.025,650.4250000000001 93.025,653.225V660.125L83.925,671.28V674.675H94.25M98.07499999999999,656.4875000000001V653.225Q98.07499999999999,650.4250000000001 100.87499999999999,650.4250000000001H104.375Q107.175,650.4250000000001 107.175,653.225V660.125L98.07499999999999,671.28V674.675H108.39999999999999" fill="none" stroke="#1d1d1d" stroke-width="2.45" stroke-linejoin="miter" stroke-linecap="butt"/>
<rect x="114.6" y="655.8" width="49.80000000000001" height="12.400000000000091" fill="#f2d211"/>
<rect x="115.6" y="656.8" width="47.80000000000001" height="10.400000000000091" fill="none" stroke="#3a3208" stroke-width="0.8" stroke-dasharray="1.6,0.9"/>
<path d="M122.6,660.264H159.4M119.6,662.62H159.4M126.6,664.976H158.4" stroke="#6a5a10" stroke-width="1.1" stroke-dasharray="2.2,0.5,1.2,0.5"/>
<rect x="117.6" y="659.2719999999999" width="2.4" height="2.4" fill="#3a3208"/>
<path d="M199.825,598.016V595.525Q199.825,592.725 202.625,592.725H206.255Q209.055,592.725 209.055,595.525V602.669Q209.055,604.269 207.455,604.269H203.0555M207.455,604.269Q209.055,604.269 209.055,605.869V613.975Q209.055,616.775 206.255,616.775H202.625Q199.825,616.775 199.825,613.975V611.484M213.135,596.8135L216.375,592.725V618.0" fill="none" stroke="#1d1d1d" stroke-width="2.45" stroke-linejoin="miter" stroke-linecap="butt"/>
<path d="M218.725,644.86V642.3249999999999Q218.725,639.525 221.525,639.525H225.105Q227.905,639.525 227.905,642.3249999999999V649.5649999999999Q227.905,651.165 226.305,651.165H221.938M226.305,651.165Q227.905,651.165 227.905,652.765V660.975Q227.905,663.775 225.105,663.775H221.525Q218.725,663.775 218.725,660.975V658.4399999999999M233.085,642.3249999999999Q233.085,639.525 235.88500000000002,639.525H240.475Q243.275,639.525 243.275,642.3249999999999V660.975Q243.275,663.775 240.475,663.775H235.88500000000002Q233.085,663.775 233.085,660.975Z" fill="none" stroke="#1d1d1d" stroke-width="2.45" stroke-linejoin="miter" stroke-linecap="butt"/>
<path d="M131.525,739.26V736.725Q131.525,733.9250000000001 134.32500000000002,733.9250000000001H137.955Q140.75500000000002,733.9250000000001 140.75500000000002,736.725V743.965Q140.75500000000002,745.565 139.15500000000003,745.565H134.7555M139.15500000000003,745.565Q140.75500000000002,745.565 140.75500000000002,747.1650000000001V755.375Q140.75500000000002,758.175 137.955,758.175H134.32500000000002Q131.525,758.175 131.525,755.375V752.84M144.835,738.0475L148.07500000000002,733.9250000000001V759.4" fill="none" stroke="#1d1d1d" stroke-width="2.45" stroke-linejoin="miter" stroke-linecap="butt"/>
<path d="M18.725,840.3625V837.025Q18.725,834.225 21.525000000000002,834.225H25.384999999999998Q28.185,834.225 28.185,837.025V844.045L18.725,855.338V858.775H29.41M42.775,839.626V837.025Q42.775,834.225 39.975,834.225H36.115Q33.315000000000005,834.225 33.315000000000005,837.025V855.975Q33.315000000000005,858.775 36.115,858.775H39.975Q42.775,858.775 42.775,855.975V848.809Q42.775,846.009 39.975,846.009H33.315000000000005" fill="none" stroke="#1d1d1d" stroke-width="2.45" stroke-linejoin="miter" stroke-linecap="butt"/>
<path d="M159.725,981.3625V978.025Q159.725,975.225 162.525,975.225H166.475Q169.275,975.225 169.275,978.025V985.045L159.725,996.338V999.775H170.5" fill="none" stroke="#1d1d1d" stroke-width="2.45" stroke-linejoin="miter" stroke-linecap="butt"/>
<path d="M231.225,974.016V971.525Q231.225,968.725 234.025,968.725H237.845Q240.645,968.725 240.645,971.525V978.669Q240.645,980.269 239.04500000000002,980.269H234.522M239.04500000000002,980.269Q240.645,980.269 240.645,981.869V989.975Q240.645,992.775 237.845,992.775H234.025Q231.225,992.775 231.225,989.975V987.484M244.745,972.8135L248.07500000000002,968.725V994.0" fill="none" stroke="#1d1d1d" stroke-width="2.45" stroke-linejoin="miter" stroke-linecap="butt"/>
<g>
<path d="M207.8,947.8L221.2,961.2M221.2,947.8L207.8,961.2" stroke="#e8222a" stroke-width="2.7"/>
<text x="226.5" y="950.70" font-family="Liberation Sans" font-weight="bold" font-size="5.2" fill="#e8222a" textLength="48.5" lengthAdjust="spacingAndGlyphs">ТОНКАЯ ОБШИВКА</text>
<text x="226.5" y="956.90" font-family="Liberation Sans" font-weight="bold" font-size="5.2" fill="#e8222a" textLength="29.8" lengthAdjust="spacingAndGlyphs">НОГАМИ НЕ</text>
<text x="226.5" y="963.10" font-family="Liberation Sans" font-weight="bold" font-size="5.2" fill="#e8222a" textLength="38.6" lengthAdjust="spacingAndGlyphs">СТАНОВИТЬСЯ</text>
</g>
<path d="M31.225,1027.4875V1024.025Q31.225,1021.225 34.025,1021.225H38.105000000000004Q40.905,1021.225 40.905,1024.025V1031.2450000000001L31.225,1042.768V1046.275H42.13M48.885,1033.249Q46.085,1033.249 46.085,1030.449V1024.025Q46.085,1021.225 48.885,1021.225H53.475Q56.275,1021.225 56.275,1024.025V1030.449Q56.275,1033.249 53.475,1033.249H48.885Q46.085,1033.249 46.085,1036.049V1043.4750000000001Q46.085,1046.275 48.885,1046.275H53.475Q56.275,1046.275 56.275,1043.4750000000001V1036.049Q56.275,1033.249 53.475,1033.249" fill="none" stroke="#1d1d1d" stroke-width="2.45" stroke-linejoin="miter" stroke-linecap="butt"/>
<g>
<path d="M83.3,1024.8L96.7,1038.2M96.7,1024.8L83.3,1038.2" stroke="#e8222a" stroke-width="2.7"/>
<text x="102.0" y="1027.70" font-family="Liberation Sans" font-weight="bold" font-size="5.2" fill="#e8222a" textLength="48.5" lengthAdjust="spacingAndGlyphs">ТОНКАЯ ОБШИВКА</text>
<text x="102.0" y="1033.90" font-family="Liberation Sans" font-weight="bold" font-size="5.2" fill="#e8222a" textLength="29.8" lengthAdjust="spacingAndGlyphs">НОГАМИ НЕ</text>
<text x="102.0" y="1040.10" font-family="Liberation Sans" font-weight="bold" font-size="5.2" fill="#e8222a" textLength="38.6" lengthAdjust="spacingAndGlyphs">СТАНОВИТЬСЯ</text>
</g>
<path d="M110.02499999999999,1051.204V1048.6249999999998Q110.02499999999999,1045.8249999999998 112.82499999999999,1045.8249999999998H116.58500000000001Q119.385,1045.8249999999998 119.385,1048.6249999999998V1055.961Q119.385,1057.561 117.78500000000001,1057.561H113.301M117.78500000000001,1057.561Q119.385,1057.561 119.385,1059.1609999999998V1067.4750000000001Q119.385,1070.275 116.58500000000001,1070.275H112.82499999999999Q110.02499999999999,1070.275 110.02499999999999,1067.4750000000001V1064.896M123.475,1049.9814999999999L126.775,1045.8249999999998V1071.5" fill="none" stroke="#1d1d1d" stroke-width="2.45" stroke-linejoin="miter" stroke-linecap="butt"/>
<g>
<path d="M626.8,941.3L640.2,954.7M640.2,941.3L626.8,954.7" stroke="#e8222a" stroke-width="2.7"/>
<text x="645.5" y="944.20" font-family="Liberation Sans" font-weight="bold" font-size="5.2" fill="#e8222a" textLength="48.5" lengthAdjust="spacingAndGlyphs">ТОНКАЯ ОБШИВКА</text>
<text x="645.5" y="950.40" font-family="Liberation Sans" font-weight="bold" font-size="5.2" fill="#e8222a" textLength="29.8" lengthAdjust="spacingAndGlyphs">НОГАМИ НЕ</text>
<text x="645.5" y="956.60" font-family="Liberation Sans" font-weight="bold" font-size="5.2" fill="#e8222a" textLength="38.6" lengthAdjust="spacingAndGlyphs">СТАНОВИТЬСЯ</text>
</g>
<path d="M652.225,967.596V965.3249999999999Q652.225,962.525 655.025,962.525H658.225Q661.025,962.525 661.025,965.3249999999999V971.9889999999999Q661.025,973.5889999999999 659.425,973.5889999999999H655.3050000000001M659.425,973.5889999999999Q661.025,973.5889999999999 661.025,975.189V982.775Q661.025,985.5749999999999 658.225,985.5749999999999H655.025Q652.225,985.5749999999999 652.225,982.775V980.5039999999999M665.0450000000001,966.4435L668.075,962.525V986.8" fill="none" stroke="#1d1d1d" stroke-width="2.45" stroke-linejoin="miter" stroke-linecap="butt"/>
<path d="M744.225,981.3625V978.025Q744.225,975.225 747.025,975.225H750.975Q753.775,975.225 753.775,978.025V985.045L744.225,996.338V999.775H755.0" fill="none" stroke="#1d1d1d" stroke-width="2.45" stroke-linejoin="miter" stroke-linecap="butt"/>
<g>
<path d="M742.3,1023.8L755.7,1037.2M755.7,1023.8L742.3,1037.2" stroke="#e8222a" stroke-width="2.7"/>
<text x="761.0" y="1026.70" font-family="Liberation Sans" font-weight="bold" font-size="5.2" fill="#e8222a" textLength="48.5" lengthAdjust="spacingAndGlyphs">ТОНКАЯ ОБШИВКА</text>
<text x="761.0" y="1032.90" font-family="Liberation Sans" font-weight="bold" font-size="5.2" fill="#e8222a" textLength="29.8" lengthAdjust="spacingAndGlyphs">НОГАМИ НЕ</text>
<text x="761.0" y="1039.10" font-family="Liberation Sans" font-weight="bold" font-size="5.2" fill="#e8222a" textLength="38.6" lengthAdjust="spacingAndGlyphs">СТАНОВИТЬСЯ</text>
</g>
<path d="M813.725,1028.8625V1025.525Q813.725,1022.725 816.525,1022.725H820.605Q823.405,1022.725 823.405,1025.525V1032.545L813.725,1043.8380000000002V1047.275H824.63M831.385,1034.509Q828.585,1034.509 828.585,1031.709V1025.525Q828.585,1022.725 831.385,1022.725H835.975Q838.775,1022.725 838.775,1025.525V1031.709Q838.775,1034.509 835.975,1034.509H831.385Q828.585,1034.509 828.585,1037.309V1044.4750000000001Q828.585,1047.275 831.385,1047.275H835.975Q838.775,1047.275 838.775,1044.4750000000001V1037.309Q838.775,1034.509 835.975,1034.509" fill="none" stroke="#1d1d1d" stroke-width="2.45" stroke-linejoin="miter" stroke-linecap="butt"/>
<path d="M768.625,1049.972V1047.5249999999999Q768.625,1044.725 771.425,1044.725H774.875Q777.675,1044.725 777.675,1047.5249999999999V1054.573Q777.675,1056.173 776.0749999999999,1056.173H771.7925M776.0749999999999,1056.173Q777.675,1056.173 777.675,1057.773V1065.775Q777.675,1068.575 774.875,1068.575H771.425Q768.625,1068.575 768.625,1065.775V1063.328M781.725,1048.7794999999999L784.875,1044.725V1069.8" fill="none" stroke="#1d1d1d" stroke-width="2.45" stroke-linejoin="miter" stroke-linecap="butt"/>
<path d="M267.725,1200.626V1198.0249999999999Q267.725,1195.225 270.52500000000003,1195.225H274.155Q276.955,1195.225 276.955,1198.0249999999999V1205.409Q276.955,1207.009 275.35499999999996,1207.009H270.95550000000003M275.35499999999996,1207.009Q276.955,1207.009 276.955,1208.609V1216.9750000000001Q276.955,1219.775 274.155,1219.775H270.52500000000003Q267.725,1219.775 267.725,1216.9750000000001V1214.374M281.035,1199.3985L284.275,1195.225V1221.0" fill="none" stroke="#1d1d1d" stroke-width="2.45" stroke-linejoin="miter" stroke-linecap="butt"/>
<g>
<path d="M244.8,1231.8L258.2,1245.2M258.2,1231.8L244.8,1245.2" stroke="#e8222a" stroke-width="2.7"/>
<text x="263.5" y="1234.70" font-family="Liberation Sans" font-weight="bold" font-size="5.2" fill="#e8222a" textLength="48.5" lengthAdjust="spacingAndGlyphs">ТОНКАЯ ОБШИВКА</text>
<text x="263.5" y="1240.90" font-family="Liberation Sans" font-weight="bold" font-size="5.2" fill="#e8222a" textLength="29.8" lengthAdjust="spacingAndGlyphs">НОГАМИ НЕ</text>
<text x="263.5" y="1247.10" font-family="Liberation Sans" font-weight="bold" font-size="5.2" fill="#e8222a" textLength="38.6" lengthAdjust="spacingAndGlyphs">СТАНОВИТЬСЯ</text>
</g>
<path d="M353.20000000000005,1178.5 L364.8,1199.3 L341.6,1199.3Z" fill="#f4d512" stroke="#3a3208" stroke-width="0.7" stroke-dasharray="1.2,0.8" stroke-linejoin="round"/>
<path d="M353.20000000000005,1184.6599999999999V1191.06M350.00000000000006,1187.86H356.40000000000003" stroke="#222" stroke-width="1.1"/><circle cx="353.20000000000005" cy="1187.86" r="1.6" fill="#222"/>
<path d="M347.70000000000005,1193.4759999999999H358.70000000000005M346.20000000000005,1196.18H360.20000000000005" stroke="#4a3f0a" stroke-width="1.3" stroke-dasharray="0.9,0.5"/>
<path d="M373.225,1185.1875V1182.0249999999999Q373.225,1179.225 376.02500000000003,1179.225H379.22499999999997Q382.025,1179.225 382.025,1182.0249999999999V1188.7649999999999L373.225,1199.736V1203.075H383.25M385.975,1183.2794999999999L388.775,1179.225V1204.3" fill="none" stroke="#1d1d1d" stroke-width="2.45" stroke-linejoin="miter" stroke-linecap="butt"/>
<rect x="341" y="1238.4" width="50" height="12.799999999999955" fill="#f2d211"/>
<rect x="342" y="1239.4" width="48" height="10.799999999999955" fill="none" stroke="#3a3208" stroke-width="0.8" stroke-dasharray="1.6,0.9"/>
<path d="M349,1243.008H386M346,1245.44H386M353,1247.872H385" stroke="#6a5a10" stroke-width="1.1" stroke-dasharray="2.2,0.5,1.2,0.5"/>
<rect x="344" y="1241.9840000000002" width="2.4" height="2.4" fill="#3a3208"/>
<path d="M401.02500000000003,1239.0125V1235.7089999999998Q401.02500000000003,1232.925 403.809,1232.925H406.941Q409.72499999999997,1232.925 409.72499999999997,1235.7089999999998V1242.665L401.02500000000003,1253.866V1257.275H410.95M414.675,1239.0125V1235.7089999999998Q414.675,1232.925 417.459,1232.925H420.59099999999995Q423.37499999999994,1232.925 423.37499999999994,1235.7089999999998V1242.665L414.675,1253.866V1257.275H424.59999999999997" fill="none" stroke="#1d1d1d" stroke-width="2.45" stroke-linejoin="miter" stroke-linecap="butt"/>
<path d="M535.625,1185.0625V1181.7609999999997Q535.625,1179.0249999999999 538.361,1179.0249999999999H541.439Q544.175,1179.0249999999999 544.175,1181.7609999999997V1188.685L535.625,1199.794V1203.1750000000002H545.4M548.095,1183.1305L550.775,1179.0249999999999V1204.4" fill="none" stroke="#1d1d1d" stroke-width="2.45" stroke-linejoin="miter" stroke-linecap="butt"/>
<path d="M568.25,1183.3 L579.9,1204.4 L556.6,1204.4Z" fill="#f4d512" stroke="#3a3208" stroke-width="0.7" stroke-dasharray="1.2,0.8" stroke-linejoin="round"/>
<path d="M568.25,1189.595V1195.9950000000001M565.05,1192.795H571.45" stroke="#222" stroke-width="1.1"/><circle cx="568.25" cy="1192.795" r="1.6" fill="#222"/>
<path d="M562.75,1198.492H573.75M561.25,1201.2350000000001H575.25" stroke="#4a3f0a" stroke-width="1.3" stroke-dasharray="0.9,0.5"/>
<path d="M474.52500000000003,1239.4625V1236.1514Q474.52500000000003,1233.425 477.25140000000005,1233.425H480.3186Q483.045,1233.425 483.045,1236.1514V1243.085L474.52500000000003,1254.194V1257.575H484.27000000000004M487.95500000000004,1239.4625V1236.1514Q487.95500000000004,1233.425 490.68140000000005,1233.425H493.7486Q496.475,1233.425 496.475,1236.1514V1243.085L487.95500000000004,1254.194V1257.575H497.70000000000005" fill="none" stroke="#1d1d1d" stroke-width="2.45" stroke-linejoin="miter" stroke-linecap="butt"/>
<rect x="504.4" y="1237.7" width="50.60000000000002" height="13.299999999999955" fill="#f2d211"/>
<rect x="505.4" y="1238.7" width="48.60000000000002" height="11.299999999999955" fill="none" stroke="#3a3208" stroke-width="0.8" stroke-dasharray="1.6,0.9"/>
<path d="M512.4,1242.488H550M509.4,1245.015H550M516.4,1247.542H549" stroke="#6a5a10" stroke-width="1.1" stroke-dasharray="2.2,0.5,1.2,0.5"/>
<rect x="507.4" y="1241.424" width="2.4" height="2.4" fill="#3a3208"/>
<path d="M605.525,1198.738V1196.225Q605.525,1193.425 608.3249999999999,1193.425H611.895Q614.6949999999999,1193.425 614.6949999999999,1196.225V1203.4170000000001Q614.6949999999999,1205.017 613.0949999999999,1205.017H608.7344999999999M613.0949999999999,1205.017Q614.6949999999999,1205.017 614.6949999999999,1206.617V1214.775Q614.6949999999999,1217.575 611.895,1217.575H608.3249999999999Q605.525,1217.575 605.525,1214.775V1212.262M618.765,1197.5305L621.9749999999999,1193.425V1218.8" fill="none" stroke="#1d1d1d" stroke-width="2.45" stroke-linejoin="miter" stroke-linecap="butt"/>
<g>
<path d="M580.8,1230.8L594.2,1244.2M594.2,1230.8L580.8,1244.2" stroke="#e8222a" stroke-width="2.7"/>
<text x="599.5" y="1233.70" font-family="Liberation Sans" font-weight="bold" font-size="5.2" fill="#e8222a" textLength="48.5" lengthAdjust="spacingAndGlyphs">ТОНКАЯ ОБШИВКА</text>
<text x="599.5" y="1239.90" font-family="Liberation Sans" font-weight="bold" font-size="5.2" fill="#e8222a" textLength="29.8" lengthAdjust="spacingAndGlyphs">НОГАМИ НЕ</text>
<text x="599.5" y="1246.10" font-family="Liberation Sans" font-weight="bold" font-size="5.2" fill="#e8222a" textLength="38.6" lengthAdjust="spacingAndGlyphs">СТАНОВИТЬСЯ</text>
</g>
<g transform="rotate(135,217,557.8)">
<path d="M210.3,551.0999999999999L223.7,564.5M223.7,551.0999999999999L210.3,564.5" stroke="#e8222a" stroke-width="2.7"/>
<text x="229.0" y="554.00" font-family="Liberation Sans" font-weight="bold" font-size="5.2" fill="#e8222a" textLength="48.5" lengthAdjust="spacingAndGlyphs">ТОНКАЯ ОБШИВКА</text>
<text x="229.0" y="560.20" font-family="Liberation Sans" font-weight="bold" font-size="5.2" fill="#e8222a" textLength="29.8" lengthAdjust="spacingAndGlyphs">НОГАМИ НЕ</text>
<text x="229.0" y="566.40" font-family="Liberation Sans" font-weight="bold" font-size="5.2" fill="#e8222a" textLength="38.6" lengthAdjust="spacingAndGlyphs">СТАНОВИТЬСЯ</text>
</g>
<g transform="rotate(135,133.3,712)">
<path d="M126.60000000000001,705.3L140.0,718.7M140.0,705.3L126.60000000000001,718.7" stroke="#e8222a" stroke-width="2.7"/>
<text x="145.3" y="708.20" font-family="Liberation Sans" font-weight="bold" font-size="5.2" fill="#e8222a" textLength="48.5" lengthAdjust="spacingAndGlyphs">ТОНКАЯ ОБШИВКА</text>
<text x="145.3" y="714.40" font-family="Liberation Sans" font-weight="bold" font-size="5.2" fill="#e8222a" textLength="29.8" lengthAdjust="spacingAndGlyphs">НОГАМИ НЕ</text>
<text x="145.3" y="720.60" font-family="Liberation Sans" font-weight="bold" font-size="5.2" fill="#e8222a" textLength="38.6" lengthAdjust="spacingAndGlyphs">СТАНОВИТЬСЯ</text>
</g>
<g transform="rotate(-144,691.5,617.4)">
<path d="M684.8,610.6999999999999L698.2,624.1M698.2,610.6999999999999L684.8,624.1" stroke="#e8222a" stroke-width="2.7"/>
<text x="703.5" y="613.60" font-family="Liberation Sans" font-weight="bold" font-size="5.2" fill="#e8222a" textLength="48.5" lengthAdjust="spacingAndGlyphs">ТОНКАЯ ОБШИВКА</text>
<text x="703.5" y="619.80" font-family="Liberation Sans" font-weight="bold" font-size="5.2" fill="#e8222a" textLength="29.8" lengthAdjust="spacingAndGlyphs">НОГАМИ НЕ</text>
<text x="703.5" y="626.00" font-family="Liberation Sans" font-weight="bold" font-size="5.2" fill="#e8222a" textLength="38.6" lengthAdjust="spacingAndGlyphs">СТАНОВИТЬСЯ</text>
</g>
<g transform="rotate(-144,811.2,662)">
<path d="M804.5,655.3L817.9000000000001,668.7M817.9000000000001,655.3L804.5,668.7" stroke="#e8222a" stroke-width="2.7"/>
<text x="823.2" y="658.20" font-family="Liberation Sans" font-weight="bold" font-size="5.2" fill="#e8222a" textLength="48.5" lengthAdjust="spacingAndGlyphs">ТОНКАЯ ОБШИВКА</text>
<text x="823.2" y="664.40" font-family="Liberation Sans" font-weight="bold" font-size="5.2" fill="#e8222a" textLength="29.8" lengthAdjust="spacingAndGlyphs">НОГАМИ НЕ</text>
<text x="823.2" y="670.60" font-family="Liberation Sans" font-weight="bold" font-size="5.2" fill="#e8222a" textLength="38.6" lengthAdjust="spacingAndGlyphs">СТАНОВИТЬСЯ</text>
</g>
<path d="M548.3,441.5 L463.5,525.5" fill="none" stroke="#dc3540" stroke-width="0.9"/>
<path d="M621.5,434.5 L589.8,434.5 L471.5,543.5" fill="none" stroke="#dc3540" stroke-width="0.9"/>
<path d="M351.6,498.2 L502.5,617.5" fill="none" stroke="#dc3540" stroke-width="0.9"/>
<path d="M346.6,530.5 L498.5,633.5" fill="none" stroke="#dc3540" stroke-width="0.9"/>
<path d="M580.4,546.6 L563.5,608.5 L561.5,646.5" fill="none" stroke="#dc3540" stroke-width="0.9"/>
<path d="M596.4,603.5 L596.4,673.5 L585.5,681.5 L577.5,681.5" fill="none" stroke="#dc3540" stroke-width="0.9"/>
<path d="M573,681L578.12,678.44L578.12,683.56Z" fill="#e8222a"/>
<path d="M325.5,596.5 L375.5,656.4" fill="none" stroke="#dc3540" stroke-width="0.9"/>
<path d="M297.5,628.3 L316.4,660.5 L321.5,678.5 L330.5,678.5" fill="none" stroke="#dc3540" stroke-width="0.9"/>
<path d="M334,678L328.88,680.56L328.88,675.44Z" fill="#e8222a"/>
<path d="M715.5,509.5 L715.5,608.3 L631.6,708.2" fill="none" stroke="#dc3540" stroke-width="0.9"/>
<path d="M791.5,525.8 L621.6,753.5" fill="none" stroke="#dc3540" stroke-width="0.9"/>
<path d="M646.5,638.3 L635.5,666.6" fill="none" stroke="#dc3540" stroke-width="0.9"/>
<path d="M766.5,688.2 L706.5,731.5" fill="none" stroke="#dc3540" stroke-width="0.9"/>
<path d="M766.5,688.2 L779.8,793.5" fill="none" stroke="#dc3540" stroke-width="0.9"/>
<path d="M821.4,759.8 L821.4,788.5 L786.4,826.4" fill="none" stroke="#dc3540" stroke-width="0.9"/>
<path d="M146.6,626.6 L296.4,743.5" fill="none" stroke="#dc3540" stroke-width="0.9"/>
<path d="M143.2,675.5 L216.5,698.5 L297.5,752.5" fill="none" stroke="#dc3540" stroke-width="0.9"/>
<path d="M221.5,608.3 L298.5,661.6" fill="none" stroke="#dc3540" stroke-width="0.9"/>
<path d="M239.8,670.5 L263.5,688.5 L303.5,720.5 L326.4,733.5 L340.5,738.5 L444.5,738.5 L444.5,706.5" fill="none" stroke="#dc3540" stroke-width="0.9"/>
<path d="M444.5,701L447.06,706.12L441.94,706.12Z" fill="#e8222a"/>
<path d="M155.5,743.5 L216.5,720.5" fill="none" stroke="#dc3540" stroke-width="0.9"/>
<path d="M145.5,765.5 L150.5,780.5" fill="none" stroke="#dc3540" stroke-width="0.9"/>
<path d="M48.5,847.5 L95.5,847.5" fill="none" stroke="#dc3540" stroke-width="0.9"/>
<path d="M165.5,868.5 L165.5,970.5" fill="none" stroke="#dc3540" stroke-width="0.9"/>
<path d="M245.5,937.5 L200.5,892.5" fill="none" stroke="#dc3540" stroke-width="0.9"/>
<path d="M245.5,937.5 L305.5,860.5" fill="none" stroke="#dc3540" stroke-width="0.9"/>
<path d="M47.5,1015.5 L82.5,925.5" fill="none" stroke="#dc3540" stroke-width="0.9"/>
<path d="M118.5,935.5 L118.5,1012.5" fill="none" stroke="#dc3540" stroke-width="0.9"/>
<path d="M276.5,1082.5 L276.5,1190.5" fill="none" stroke="#dc3540" stroke-width="0.9"/>
<path d="M378.5,1170.5 L378.5,927.5 L440.5,927.5" fill="none" stroke="#dc3540" stroke-width="0.9"/>
<path d="M444,927.5L438.88,930.06L438.88,924.94Z" fill="#e8222a"/>
<path d="M410.5,1219.5 L410.5,943.5 L438.5,943.5" fill="none" stroke="#dc3540" stroke-width="0.9"/>
<path d="M442,943.5L436.88,946.06L436.88,940.94Z" fill="#e8222a"/>
<path d="M542.5,1172.5 L542.5,1013.5 L465.5,1013.5" fill="none" stroke="#dc3540" stroke-width="0.9"/>
<path d="M461,1013.5L466.12,1010.94L466.12,1016.06Z" fill="#e8222a"/>
<path d="M490.5,1222.5 L490.5,1029.5 L472.5,1029.5" fill="none" stroke="#dc3540" stroke-width="0.9"/>
<path d="M468,1029.5L473.12,1026.94L473.12,1032.06Z" fill="#e8222a"/>
<path d="M613.5,1067.5 L613.5,1187.5" fill="none" stroke="#dc3540" stroke-width="0.9"/>
<path d="M747.5,868.5 L747.5,970.5" fill="none" stroke="#dc3540" stroke-width="0.9"/>
<path d="M660.6,934.5 L595.5,858.5" fill="none" stroke="#dc3540" stroke-width="0.9"/>
<path d="M660.6,934.5 L688.5,893.5" fill="none" stroke="#dc3540" stroke-width="0.9"/>
<path d="M784.5,940.5 L784.5,1017.5" fill="none" stroke="#dc3540" stroke-width="0.9"/>
<path d="M825.5,925.5 L825.5,1015.5" fill="none" stroke="#dc3540" stroke-width="0.9"/>
</svg></body></html>
